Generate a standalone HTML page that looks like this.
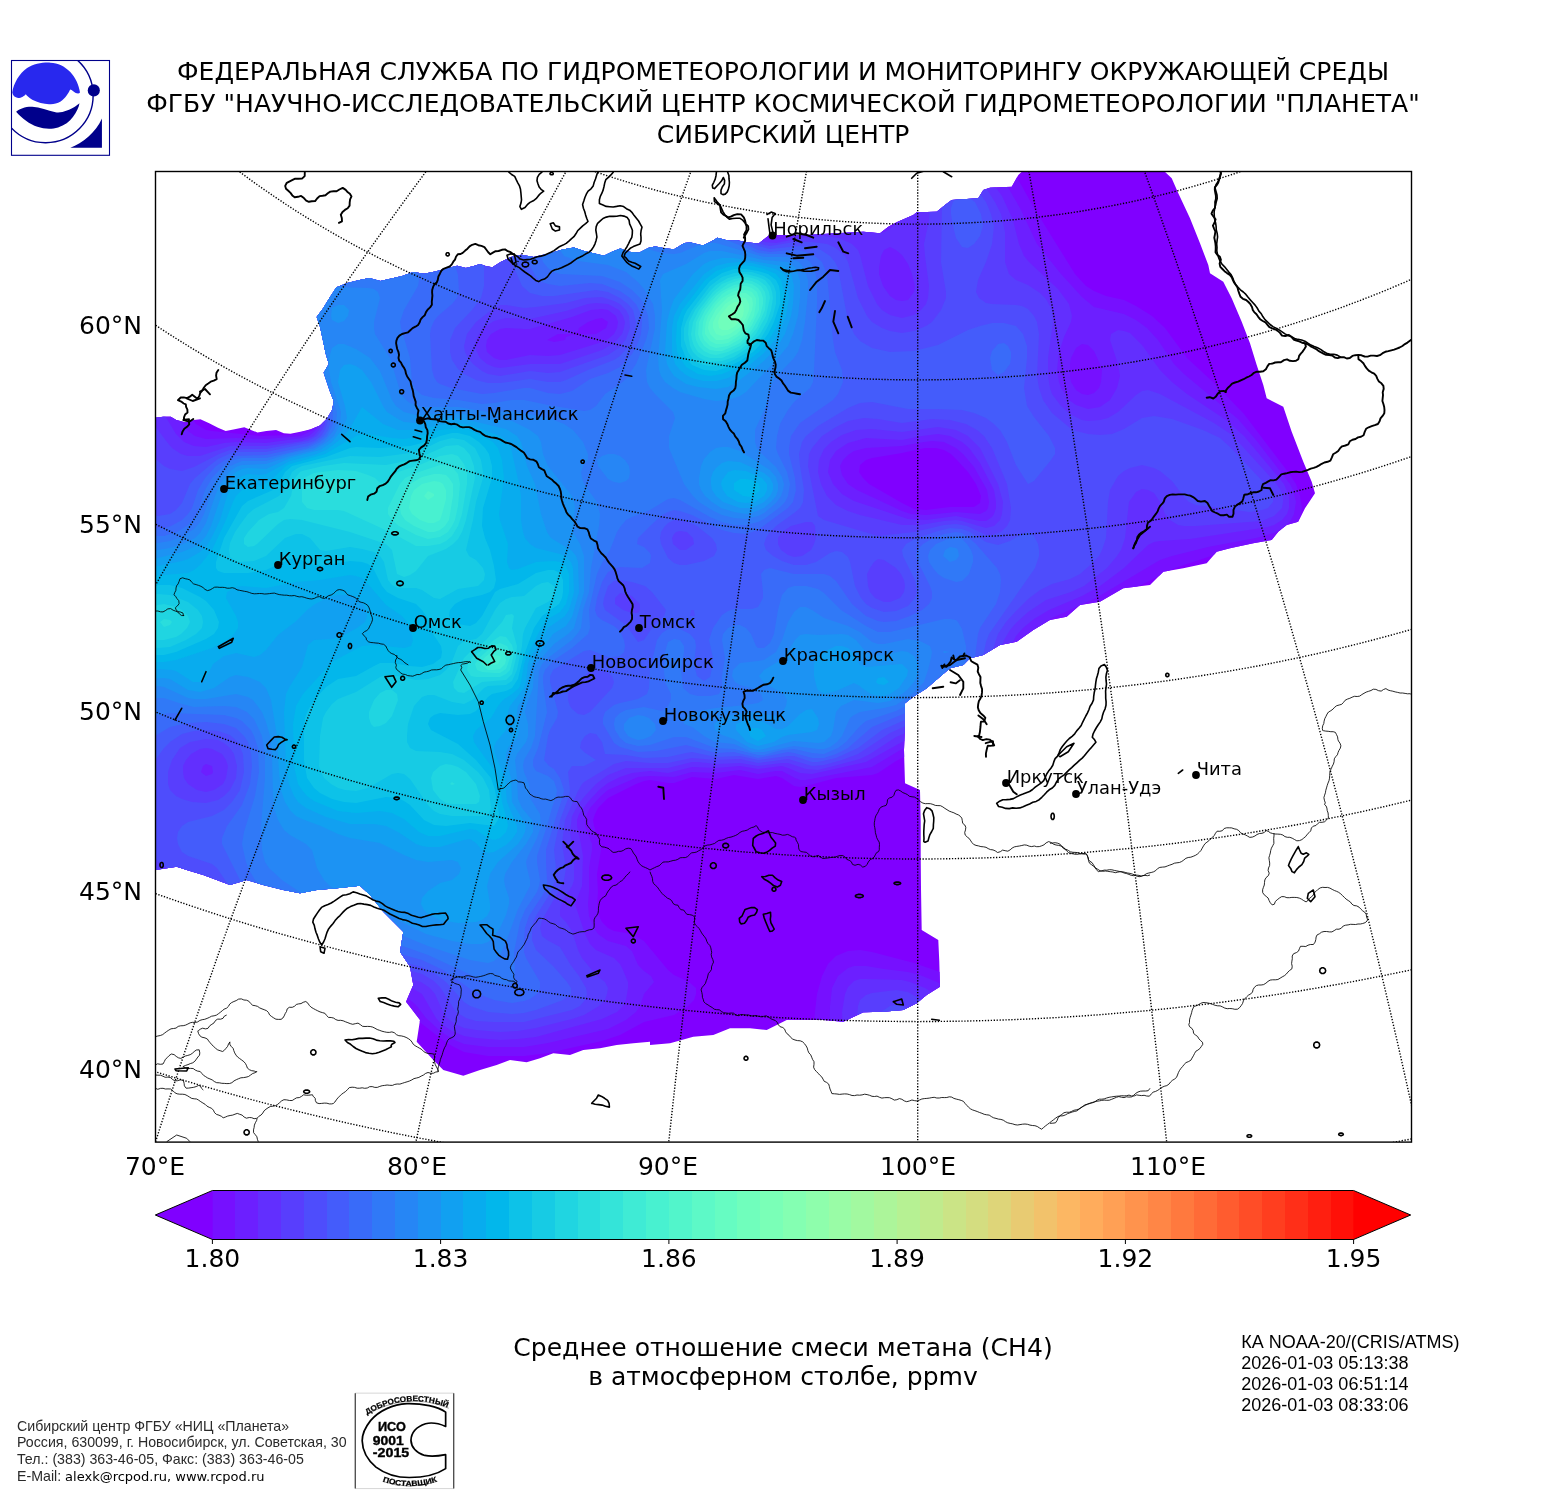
<!DOCTYPE html>
<html lang="ru"><head><meta charset="utf-8"><title>CH4</title>
<style>
html,body{margin:0;padding:0;background:#fff;}
body{width:1550px;height:1500px;overflow:hidden;position:relative;}
svg{position:absolute;left:0;top:0;display:block;}
.dj{font-family:"DejaVu Sans","Liberation Sans",sans-serif;}
.ar{font-family:"Liberation Sans",Arial,sans-serif;}
</style></head><body>
<svg width="1550" height="1500" viewBox="0 0 1550 1500">
<rect width="1550" height="1500" fill="#fff"/>

<defs><clipPath id="fr"><rect x="155.5" y="171.5" width="1256.0" height="970.5999999999999"/></clipPath>
<clipPath id="reg"><path d="M155.3 417.8 L163.2 416.7 L170.8 416.7 L176.3 420.0 L185.1 422.2 L193.9 420.0 L200.4 419.3 L209.2 423.3 L218.0 427.7 L225.7 431.0 L233.4 429.4 L244.3 427.2 L250.9 429.9 L257.5 432.5 L266.3 431.0 L276.1 429.9 L283.8 433.2 L290.4 433.8 L299.2 432.1 L310.1 429.4 L320.0 425.5 L326.6 418.9 L332.1 410.1 L333.8 401.3 L330.3 392.6 L326.6 381.6 L323.7 372.8 L328.8 364.1 L325.5 353.1 L323.3 342.1 L320.0 326.8 L316.7 316.9 L323.3 308.1 L329.9 297.2 L336.4 287.3 L347.4 282.9 L358.4 280.3 L369.3 278.1 L380.3 281.1 L391.3 278.5 L402.2 275.9 L413.2 271.9 L424.2 273.7 L435.2 271.5 L446.1 268.6 L457.1 265.8 L465.9 268.0 L474.6 265.8 L480.0 264.1 L486.2 266.2 L492.4 267.2 L500.6 262.0 L511.0 256.9 L521.3 254.8 L533.7 256.9 L548.1 253.8 L562.6 249.6 L573.9 247.6 L583.2 250.7 L595.6 253.8 L603.9 255.8 L612.1 251.7 L620.4 248.6 L628.6 251.7 L639.0 252.7 L649.3 247.6 L655.5 246.5 L665.8 248.6 L674.1 249.2 L684.4 243.0 L690.6 242.4 L703.0 245.5 L711.2 241.4 L717.4 237.7 L727.7 240.4 L738.1 240.4 L748.4 242.4 L758.7 243.4 L769.0 235.2 L772.1 235.2 L790.0 235.0 L806.7 235.0 L836.7 233.3 L863.3 231.7 L880.0 233.3 L888.3 226.7 L896.7 222.3 L913.3 215.0 L916.7 212.3 L936.7 211.7 L945.0 205.0 L951.7 200.0 L978.3 198.3 L983.3 190.0 L990.0 187.7 L1011.7 186.7 L1018.3 175.0 L1023.3 170.3 L1163.3 170.3 L1171.7 178.3 L1178.3 193.3 L1190.0 218.3 L1200.0 243.3 L1208.3 265.0 L1210.0 273.3 L1223.3 281.7 L1231.7 298.3 L1241.7 321.7 L1250.0 343.3 L1256.7 365.0 L1263.3 385.0 L1266.7 398.3 L1283.3 406.7 L1291.7 431.7 L1303.3 461.7 L1311.7 481.7 L1315.0 493.3 L1305.0 508.3 L1298.3 521.7 L1286.7 525.0 L1278.3 531.7 L1271.7 540.0 L1253.3 543.3 L1230.0 548.3 L1216.7 551.7 L1206.7 563.3 L1183.3 568.3 L1163.3 571.7 L1150.0 585.0 L1123.3 588.3 L1100.0 601.7 L1080.0 605.0 L1066.7 616.7 L1050.0 620.0 L1033.3 630.0 L1016.7 641.7 L1000.0 645.0 L983.3 655.0 L970.0 658.3 L963.3 665.0 L963.3 665.0 L950.0 668.3 L940.0 676.7 L926.7 688.3 L913.3 696.7 L905.0 703.3 L905.0 721.7 L904.0 750.0 L905.0 783.3 L920.0 790.0 L920.7 821.7 L920.7 855.0 L921.0 888.3 L921.7 930.0 L938.3 940.0 L939.3 961.7 L940.0 986.7 L926.7 995.0 L916.7 1003.3 L903.3 1010.0 L883.3 1011.7 L863.3 1012.3 L843.3 1021.7 L823.3 1020.0 L803.3 1020.0 L786.7 1020.0 L766.7 1030.0 L750.0 1028.3 L730.0 1028.3 L713.3 1035.0 L693.3 1036.7 L670.0 1043.3 L650.0 1045.0 L650.0 1041.7 L633.3 1043.3 L616.7 1045.0 L600.0 1048.3 L583.3 1050.0 L570.0 1055.0 L553.3 1053.3 L540.0 1058.3 L526.7 1062.3 L510.0 1060.0 L496.7 1065.0 L480.0 1070.0 L463.3 1075.7 L443.3 1070.0 L433.3 1060.0 L416.7 1041.7 L420.0 1020.0 L406.0 1001.7 L413.3 985.0 L410.0 966.7 L400.0 951.7 L403.3 931.7 L393.3 921.7 L383.3 911.7 L370.0 895.0 L360.0 885.7 L336.7 888.3 L316.7 890.0 L300.0 893.3 L283.3 890.0 L263.3 885.0 L246.7 880.0 L230.0 885.0 L216.7 880.0 L203.3 875.0 L186.7 870.0 L176.7 866.7 L155.3 870.0Z"/></clipPath>
<filter id="b40" x="-50%" y="-50%" width="200%" height="200%"><feGaussianBlur stdDeviation="22"/></filter>
<filter id="b25" x="-50%" y="-50%" width="200%" height="200%"><feGaussianBlur stdDeviation="14"/></filter>
<filter id="b12" x="-50%" y="-50%" width="200%" height="200%"><feGaussianBlur stdDeviation="8"/></filter>
</defs>
<g clip-path="url(#fr)">
<g clip-path="url(#reg)">
<rect x="155.5" y="171.5" width="1256.0" height="970.5999999999999" fill="#8000ff"/>
<path d="M146 160L692 160L696 166L701 172L757 226L764 231L770 233L782 231L843 208L860 200L872 193L884 183L896 170L902 160L1009 160L1014 172L1034 208L1075 274L1086 286L1094 291L1106 296L1124 300L1136 306L1152 316L1165 328L1187 358L1214 383L1244 414L1288 472L1296 484L1300 496L1302 508L1301 514L1298 522L1292 530L1280 539L1268 543L1214 555L1175 568L1127 592L1075 616L1054 628L1039 640L1031 652L1014 694L1003 712L986 729L968 739L950 746L908 755L896 761L878 773L872 775L836 778L806 786L800 787L794 786L782 778L776 776L758 779L734 775L716 779L692 777L674 783L668 783L650 780L644 781L636 784L608 798L598 808L595 814L593 820L594 826L600 844L601 850L597 874L598 892L597 904L599 916L602 922L608 928L614 931L632 934L644 941L668 970L674 975L689 982L696 988L696 994L694 1000L688 1006L674 1015L644 1022L620 1035L602 1041L548 1053L524 1056L488 1056L464 1052L452 1046L440 1038L404 1010L392 1005L368 1000L302 994L266 987L230 976L170 953L140 946L140 160ZM203 340L194 344L188 349L183 358L180 370L180 382L183 400L188 412L196 424L206 430L212 431L260 436L290 435L302 432L308 430L312 424L312 418L308 408L296 392L272 368L254 354L236 344L218 339ZM925 448L902 453L872 458L866 460L860 465L859 472L863 478L869 484L902 503L914 509L926 510L950 507L974 507L980 503L981 496L976 484L968 472L957 460L951 454L944 450L936 448ZM848 951L860 950L872 952L914 963L952 976L968 985L980 994L992 1006L1005 1024L1013 1042L1017 1060L1017 1084L1013 1102L1008 1114L998 1129L986 1141L966 1156L900 1156L872 1138L857 1126L842 1110L828 1090L820 1072L814 1048L813 1030L817 994L822 976L828 964L836 956Z" fill="#7610ff" fill-rule="evenodd"/>
<path d="M146 160L678 160L682 166L687 172L728 205L751 226L764 235L770 237L776 237L818 224L860 214L876 208L885 202L896 192L918 166L921 160L992 160L1020 208L1037 244L1061 274L1082 297L1094 307L1124 314L1136 320L1147 328L1158 340L1174 364L1184 374L1238 419L1256 440L1290 484L1293 490L1296 502L1294 514L1291 520L1286 526L1274 533L1256 538L1208 547L1172 556L1160 560L1096 598L1052 618L1038 628L1025 640L1019 652L1011 676L1004 693L995 706L986 716L974 724L956 733L902 749L872 767L806 780L800 780L795 778L782 771L776 771L758 774L740 770L716 773L692 772L674 777L650 776L638 777L608 790L601 796L590 808L587 814L585 820L585 826L592 844L592 850L589 868L589 892L588 904L589 916L594 928L598 934L608 941L626 946L632 951L638 965L644 971L651 976L654 982L644 994L640 1006L636 1012L626 1020L608 1029L548 1043L524 1047L488 1047L464 1044L452 1039L439 1030L426 1018L416 1005L410 1000L404 997L386 993L308 984L272 976L236 964L176 936L152 928L140 925L140 160ZM178 322L170 329L164 340L161 352L161 364L164 382L170 400L179 418L188 431L195 436L206 439L236 438L266 439L301 436L313 430L316 424L316 418L314 411L308 401L284 372L254 343L230 326L212 319L194 317L188 318ZM588 322L579 328L578 331L572 334L558 334L547 340L554 342L565 340L566 337L572 335L596 334L606 328L608 322L602 318L596 319ZM1079 346L1076 348L1071 358L1070 364L1070 376L1071 382L1076 390L1082 394L1088 395L1094 393L1099 388L1101 382L1102 370L1100 364L1094 351L1088 345L1082 344ZM924 442L902 446L866 448L854 451L848 455L843 460L840 466L842 475L848 484L857 490L902 511L911 514L926 515L956 512L980 514L986 511L988 508L989 502L987 490L974 467L963 454L956 448L944 442L932 441ZM848 968L854 966L866 966L884 969L908 972L920 975L937 982L950 990L964 1000L975 1012L983 1024L991 1042L994 1054L995 1072L992 1088L986 1102L980 1110L970 1120L956 1129L944 1133L926 1135L908 1132L890 1126L878 1119L866 1110L852 1096L842 1081L835 1066L831 1054L829 1036L830 1006L832 988L838 976Z" fill="#6c1fff" fill-rule="evenodd"/>
<path d="M146 160L662 160L666 166L672 172L687 184L722 208L758 236L764 239L770 240L782 239L812 231L830 229L848 228L878 233L884 232L890 229L902 217L908 209L918 190L926 178L944 161L946 160L970 160L986 174L1002 196L1013 220L1019 244L1024 256L1029 262L1058 289L1069 304L1072 316L1071 322L1064 337L1059 352L1057 370L1059 382L1061 388L1069 400L1076 405L1088 409L1100 407L1110 400L1117 388L1120 376L1118 364L1110 340L1111 334L1118 330L1124 331L1130 333L1142 345L1160 370L1172 382L1187 394L1226 420L1244 436L1284 484L1289 496L1289 508L1287 514L1282 520L1274 525L1268 527L1190 539L1160 541L1154 542L1148 545L1124 568L1100 586L1082 596L1049 610L1034 619L1023 628L1016 636L1011 646L1002 676L997 688L989 700L980 709L968 717L956 723L902 742L866 762L812 774L800 773L788 768L782 766L758 769L740 766L716 768L692 767L668 773L650 771L632 773L620 777L608 783L599 790L588 802L579 814L577 820L577 826L581 844L583 856L582 886L575 904L585 934L590 944L596 950L614 958L620 964L623 970L628 982L628 988L626 1000L623 1006L617 1012L602 1019L536 1037L518 1039L500 1040L476 1038L464 1036L452 1031L441 1024L436 1018L422 994L412 988L392 984L320 975L278 966L260 960L242 952L194 923L182 917L158 909L140 904L140 377L146 384L176 434L184 442L194 446L206 447L224 443L236 442L266 443L302 438L309 436L316 430L319 424L319 418L315 406L308 395L278 356L248 324L230 307L218 298L206 291L194 285L176 282L164 283L158 285L140 297L140 160ZM884 250L881 256L879 268L879 274L883 286L890 296L896 300L902 301L908 300L914 292L915 286L912 274L908 264L902 255L896 250L890 247ZM591 310L572 317L530 329L524 329L506 328L500 329L491 334L487 340L486 346L487 352L494 358L500 360L506 360L530 355L548 356L560 355L602 342L608 339L614 334L617 328L618 322L616 316L608 310L602 309ZM922 436L902 440L866 438L848 443L836 451L830 460L828 472L833 484L842 494L854 501L908 519L926 520L956 516L980 521L986 521L992 517L994 514L996 508L996 502L994 490L980 463L969 448L962 442L950 436L938 434ZM203 766L201 772L206 776L212 774L213 772L212 766L206 764ZM854 981L860 979L866 979L902 980L910 982L925 988L935 994L943 1000L954 1012L966 1030L970 1042L972 1054L972 1066L969 1078L962 1090L956 1097L949 1102L938 1108L926 1110L914 1110L902 1108L890 1103L878 1096L865 1084L856 1072L850 1060L846 1048L843 1030L842 1012L845 994L848 987Z" fill="#622ffe" fill-rule="evenodd"/>
<path d="M176 160L644 160L649 166L655 172L674 186L722 214L755 238L764 242L776 243L800 238L824 236L839 238L852 244L858 250L860 255L868 286L877 304L882 310L890 315L902 318L914 315L920 311L926 304L928 298L929 286L925 256L924 244L929 220L930 202L933 190L938 183L944 178L950 175L956 174L968 175L980 182L986 188L995 202L1001 214L1005 232L1005 262L1009 274L1016 280L1028 285L1040 293L1046 299L1052 310L1053 322L1048 358L1048 376L1050 388L1052 394L1061 406L1070 414L1082 420L1088 421L1100 420L1108 418L1118 412L1136 395L1142 391L1148 390L1160 394L1214 423L1232 435L1274 481L1280 489L1283 496L1283 502L1282 508L1274 516L1262 521L1196 526L1184 526L1178 525L1170 520L1165 514L1160 502L1154 493L1148 490L1142 489L1136 492L1129 502L1125 538L1121 550L1117 556L1107 568L1084 586L1071 592L1046 600L1028 612L1016 623L1010 630L1004 640L996 670L991 682L980 697L962 710L896 737L870 754L860 759L830 767L818 770L806 769L788 763L782 763L758 766L740 763L716 764L698 762L692 762L668 768L626 768L608 775L596 784L584 797L578 805L572 816L570 832L574 862L574 880L572 886L561 904L560 910L560 916L566 922L572 931L578 950L582 958L596 975L605 982L608 988L607 994L605 1000L599 1006L584 1015L572 1019L536 1028L518 1031L500 1032L476 1030L464 1028L455 1024L447 1018L443 1012L435 994L430 988L421 982L404 977L320 965L296 960L278 954L260 947L242 937L194 900L140 881L140 411L146 415L152 422L167 442L172 448L181 454L188 456L200 456L230 446L266 446L302 441L314 436L319 430L322 424L322 418L321 412L308 389L227 274L191 220L185 208L177 190L175 178ZM588 304L566 311L530 319L506 318L494 321L483 328L479 334L476 340L475 346L477 352L480 358L487 364L494 367L500 368L530 364L560 364L602 350L614 343L622 334L624 328L625 322L623 316L619 310L608 304L596 303ZM856 430L842 435L831 442L824 449L819 460L818 472L821 484L827 496L836 505L848 511L860 515L902 525L920 525L944 521L956 520L962 521L986 528L994 526L1000 520L1002 514L1003 502L998 484L980 448L968 436L956 430L938 427L902 432L872 429ZM191 754L186 760L183 766L183 772L184 778L188 784L197 790L206 792L214 790L223 784L226 778L228 766L226 760L222 754L212 749L206 748L200 749ZM872 993L896 990L908 992L922 1000L929 1006L939 1018L946 1036L948 1048L947 1054L943 1066L938 1073L933 1078L920 1083L914 1084L902 1082L891 1078L884 1074L870 1060L861 1042L858 1030L857 1018L858 1006L860 1000L866 995Z" fill="#583efd" fill-rule="evenodd"/>
<path d="M278 164L281 160L623 160L628 166L636 172L670 196L686 205L716 217L760 244L770 246L794 242L812 242L827 244L836 248L845 256L848 262L858 298L867 316L872 322L882 328L890 331L902 333L914 331L926 326L932 322L941 310L946 298L946 292L941 262L942 202L944 195L950 188L956 186L962 185L968 186L974 189L980 194L986 202L991 214L994 226L992 244L986 262L978 280L976 292L979 298L986 303L992 304L1016 305L1022 306L1028 309L1034 316L1037 322L1039 334L1037 376L1039 388L1043 400L1052 413L1070 428L1076 431L1088 434L1100 435L1112 434L1124 429L1142 418L1154 416L1172 419L1203 430L1220 438L1231 448L1268 487L1273 496L1273 502L1268 508L1262 510L1250 512L1196 505L1189 502L1184 497L1172 481L1160 471L1154 468L1142 465L1130 468L1124 471L1118 476L1110 490L1108 502L1106 538L1102 550L1099 556L1088 567L1080 574L1070 579L1052 584L1040 590L1028 599L1016 611L1006 622L998 634L994 646L988 670L982 682L974 692L962 701L890 733L858 754L842 760L824 765L812 766L788 759L758 763L740 759L716 760L692 758L668 763L650 763L626 761L614 764L584 782L582 784L578 791L565 820L562 844L566 868L564 880L558 892L542 920L540 928L542 936L547 940L560 947L570 964L579 976L586 988L587 994L585 1000L580 1006L572 1010L524 1022L494 1022L476 1021L466 1018L456 1012L440 987L434 981L422 974L404 969L314 954L288 946L266 937L251 928L236 916L225 904L212 888L206 882L170 870L159 862L146 850L140 847L140 446L164 466L170 469L182 471L194 467L219 454L230 450L242 449L266 449L308 441L317 436L322 430L325 424L324 412L320 403L276 328L263 304L253 280L247 256L246 232L250 208L254 196L260 186ZM585 298L566 303L536 307L524 308L506 305L500 305L494 308L476 322L467 334L464 346L465 352L468 358L473 364L482 371L488 374L500 376L530 371L548 373L560 372L608 355L620 347L626 339L630 328L629 316L626 310L620 304L614 301L602 297ZM864 418L848 421L836 427L822 436L812 448L809 454L808 466L818 516L824 520L878 536L914 532L944 525L956 524L967 526L986 535L992 535L1001 532L1007 526L1010 520L1011 508L1007 484L992 448L984 436L977 430L966 424L950 420L932 419L902 423L878 419ZM791 526L782 532L778 538L778 544L781 550L788 555L794 557L802 556L811 550L814 544L816 538L815 526L812 522L806 522ZM676 532L674 534L672 538L673 544L680 550L686 550L694 544L693 538L687 532L680 531ZM874 562L870 568L867 574L868 586L870 592L875 598L884 602L890 602L900 598L904 592L905 586L904 580L901 574L896 568L884 560L878 559ZM615 598L615 604L623 610L632 613L638 613L640 610L640 604L632 596L626 594L620 593ZM190 742L180 748L172 760L168 772L168 778L168 784L170 790L176 796L182 799L192 802L206 803L218 800L224 796L230 790L236 778L237 766L234 754L230 748L224 743L218 740L206 739ZM890 1006L896 1005L902 1006L908 1010L915 1018L917 1024L919 1036L917 1042L914 1046L908 1049L902 1050L896 1048L890 1045L884 1038L880 1030L878 1024L878 1018L881 1012Z" fill="#4e4dfc" fill-rule="evenodd"/>
<path d="M494 163L499 160L593 160L601 166L626 181L668 208L680 213L716 223L758 246L770 249L800 246L812 247L821 250L830 256L835 262L838 268L847 316L854 334L860 341L872 348L890 352L914 351L938 345L968 330L980 326L992 323L1004 323L1016 326L1023 334L1027 346L1027 358L1024 388L1026 400L1027 406L1034 417L1049 436L1055 448L1055 454L1051 460L1034 481L1028 484L1016 465L1007 442L1000 430L994 424L986 418L974 413L962 410L938 409L908 409L872 402L860 403L848 408L818 426L806 436L802 442L799 454L800 466L804 490L803 502L800 508L794 513L776 526L770 532L766 538L764 544L766 550L773 556L782 561L794 565L806 565L816 562L830 553L836 551L842 552L848 557L850 562L855 586L861 598L866 604L872 608L884 612L896 611L908 606L915 598L917 592L915 580L903 556L902 550L906 544L917 538L938 531L950 528L962 529L970 532L986 542L998 545L1010 541L1022 534L1028 532L1034 536L1038 544L1039 550L1039 556L1035 568L989 634L986 642L980 670L974 680L968 686L956 694L914 716L882 730L858 748L836 758L818 762L812 762L794 756L788 756L758 760L740 756L716 757L692 752L686 753L668 757L644 758L626 755L605 754L602 742L596 734L590 733L585 736L581 742L580 748L584 752L596 760L584 766L572 766L568 772L570 790L569 796L560 820L555 844L554 850L556 868L555 880L551 892L536 916L533 922L532 934L532 940L536 950L554 967L567 982L571 988L571 994L563 1000L536 1010L524 1013L512 1014L488 1012L470 1006L464 1002L446 982L434 973L422 967L398 961L320 944L296 937L276 928L256 916L242 904L233 892L217 868L212 864L188 856L182 852L178 844L177 838L178 832L182 826L188 822L212 816L224 810L232 802L240 790L244 772L243 754L238 742L230 735L218 731L206 730L194 731L182 734L170 742L164 748L146 773L140 778L140 510L158 516L170 514L176 510L182 503L190 484L195 478L209 466L218 459L229 454L236 452L266 452L308 443L314 441L321 436L325 430L327 424L328 418L325 406L285 328L274 298L272 280L272 262L277 244L283 232L296 216L314 202L332 192L356 182L380 176L398 174L464 173L482 169ZM489 250L485 256L484 262L484 286L481 298L472 310L455 328L450 340L450 352L452 360L458 369L464 374L476 380L488 383L500 383L530 379L548 382L560 382L566 380L588 370L614 360L620 356L629 346L635 334L636 322L633 310L628 304L620 298L608 292L596 290L554 296L542 296L530 293L522 286L512 263L506 254L500 249L494 248ZM678 520L674 520L668 523L665 526L661 532L660 538L661 544L668 558L674 563L680 565L686 565L704 561L714 556L717 550L716 544L712 538L697 526L686 521ZM620 580L614 581L608 586L604 598L603 604L605 610L626 625L638 642L644 640L652 628L664 616L666 610L652 592L645 586L632 582ZM691 610L690 616L695 616L694 610ZM593 670L590 671L571 688L568 694L568 700L570 706L572 709L578 714L584 715L590 712L612 688L614 682L612 676L608 672L602 670ZM956 199L962 196L968 197L975 202L981 214L983 226L980 236L974 244L968 248L962 247L960 244L956 238L953 226L951 214L951 208L953 202Z" fill="#445cfb" fill-rule="evenodd"/>
<path d="M554 177L572 177L596 182L620 193L656 216L668 222L680 225L704 227L716 230L758 250L770 252L788 250L798 250L806 252L815 256L822 262L827 274L833 340L835 352L842 370L843 382L838 394L833 400L800 423L791 436L789 448L789 454L795 478L796 490L793 502L788 508L758 530L746 534L734 533L722 530L692 515L680 511L674 510L668 512L662 515L650 526L638 538L637 544L644 547L650 553L651 556L650 563L642 568L620 567L614 569L608 572L602 582L597 598L595 610L597 616L602 620L614 626L620 631L624 640L625 646L624 652L620 656L614 657L608 657L590 650L584 651L553 670L550 676L550 682L558 712L557 718L550 730L548 736L544 760L549 766L554 769L560 778L564 790L563 796L557 814L546 850L546 862L547 880L547 886L542 896L529 916L525 928L524 940L524 952L526 958L540 982L540 988L537 994L530 999L524 1001L512 1003L494 1000L476 993L443 970L422 960L386 950L325 934L296 924L280 916L266 908L248 892L240 880L225 850L222 844L222 838L227 826L242 805L250 784L252 766L251 754L248 742L244 736L236 728L224 724L206 722L188 723L170 727L140 745L140 526L152 528L164 528L171 526L182 520L188 514L192 508L198 490L205 478L216 466L225 460L236 456L266 455L308 446L316 442L324 436L328 430L330 424L330 412L306 358L292 322L289 310L287 298L289 280L296 264L308 251L326 242L374 223L386 220L398 218L410 219L422 222L434 229L440 235L446 243L452 256L458 275L459 292L457 298L452 304L438 316L434 321L431 328L430 334L432 370L434 377L437 382L440 384L451 388L482 394L494 393L524 388L530 388L548 393L560 394L572 391L590 379L608 373L620 367L632 354L638 343L641 334L642 322L642 316L636 304L630 298L620 291L602 284L590 283L560 286L548 284L542 282L536 277L531 268L526 256L518 232L516 220L516 208L518 202L522 196L530 187L542 181ZM998 344L1004 343L1008 346L1011 352L1011 358L1010 364L1004 372L998 375L992 370L990 358L992 351ZM956 532L962 533L968 537L976 544L997 568L1000 574L1001 580L1000 592L996 604L980 628L978 634L974 664L968 675L956 684L938 693L908 712L872 727L848 748L836 754L824 758L812 758L794 753L788 752L758 758L734 752L716 753L686 745L656 751L638 752L620 747L614 743L610 736L603 724L603 718L605 712L614 705L620 703L638 699L647 694L649 688L650 670L657 640L662 633L668 629L674 628L680 629L690 634L695 640L696 646L694 664L697 676L704 681L710 677L713 664L713 658L709 640L713 628L722 615L728 611L734 609L752 609L758 607L763 598L763 592L761 574L764 570L770 568L794 574L824 574L830 576L836 581L852 604L866 616L878 621L884 622L896 621L910 616L922 610L929 604L932 598L932 592L930 586L918 562L916 556L917 550L923 544L933 538L944 534Z" fill="#396bf9" fill-rule="evenodd"/>
<path d="M560 200L566 198L578 196L590 198L602 201L620 209L656 233L668 238L680 239L698 235L710 235L722 238L758 253L770 254L794 254L801 256L806 259L810 262L814 268L817 280L817 304L814 370L813 382L810 388L794 402L788 410L780 424L777 436L776 448L778 454L787 472L790 484L788 496L785 502L779 508L764 519L758 522L746 525L734 525L722 522L710 517L680 500L674 498L668 499L650 510L632 517L626 520L621 526L617 532L610 550L602 563L597 574L589 610L590 628L588 634L572 648L554 660L545 670L543 676L543 682L547 712L538 748L533 760L533 766L536 771L548 776L554 781L557 790L556 796L552 808L547 826L537 856L537 862L540 880L539 886L537 892L525 910L520 922L514 952L515 976L514 982L506 985L494 983L482 980L428 955L380 938L327 922L311 916L276 898L266 891L255 880L248 868L246 862L242 844L244 832L255 796L259 772L258 748L254 736L251 730L242 721L236 718L224 715L170 713L158 715L140 722L140 536L164 536L177 532L188 525L197 514L205 490L212 478L223 466L230 461L242 458L266 458L308 448L320 442L327 436L333 424L333 412L313 358L302 322L300 304L302 292L308 281L314 276L326 271L350 269L380 258L392 257L404 259L410 262L416 268L418 274L419 280L418 286L404 310L400 322L401 328L410 358L412 382L416 390L422 395L434 398L458 400L482 404L494 403L512 400L524 400L548 405L584 411L590 410L596 406L605 394L620 384L626 379L636 364L646 340L649 328L648 316L644 304L640 298L632 290L620 282L602 276L560 274L554 272L548 268L543 262L539 250L538 238L539 226L542 216L547 208L554 203ZM950 538L956 537L962 539L967 544L971 550L973 556L973 562L969 574L962 581L956 582L944 578L938 574L933 568L929 562L928 556L930 550L936 544ZM794 586L806 586L818 589L824 593L841 610L866 626L878 632L890 632L944 619L950 619L956 620L958 622L962 629L966 646L966 658L965 664L962 668L956 673L938 680L923 694L906 706L896 711L866 721L860 726L846 742L838 748L824 754L812 753L794 749L782 750L764 755L758 755L734 749L715 748L686 737L674 737L650 745L638 746L626 743L620 738L615 730L614 724L615 718L620 713L626 710L638 708L644 707L662 711L668 706L671 700L671 694L665 682L664 670L665 652L668 642L674 639L680 640L684 646L684 652L681 670L683 688L690 694L698 696L710 696L719 694L722 688L722 676L725 658L722 640L723 634L728 628L734 625L740 625L746 628L751 634L756 646L758 648L764 648L770 643L774 634L778 610L782 595L788 588Z" fill="#3079f7" fill-rule="evenodd"/>
<path d="M578 219L590 219L608 224L623 232L644 246L651 250L662 253L674 254L680 253L704 243L716 243L764 257L788 257L799 262L804 268L808 280L808 292L805 322L802 340L798 352L794 358L777 376L773 382L770 388L766 406L755 430L755 442L757 448L762 454L776 467L782 477L784 484L783 490L781 496L776 503L764 513L758 516L746 519L734 518L722 515L710 509L699 502L693 496L684 484L669 448L669 436L675 418L673 412L655 394L650 388L647 382L646 370L655 328L655 316L653 304L644 289L638 282L626 272L608 265L578 261L564 256L560 250L559 244L560 235L566 226ZM326 289L338 287L368 288L374 289L378 292L380 298L374 322L374 328L375 334L390 358L401 394L406 400L410 403L422 407L458 407L488 412L512 411L549 418L564 424L573 430L583 442L588 454L588 460L584 464L581 472L582 478L584 484L597 502L600 514L599 526L591 568L589 592L583 610L581 628L578 633L572 640L548 658L542 664L539 670L535 736L531 748L524 760L523 766L524 772L529 784L530 798L540 814L541 826L537 838L528 856L526 862L527 868L530 880L530 886L518 909L506 942L500 955L494 961L488 963L470 960L428 946L374 924L332 909L309 898L282 880L269 868L265 862L262 850L261 826L265 778L265 754L262 736L254 719L247 712L236 707L224 706L194 707L182 704L164 698L158 698L140 702L140 544L158 543L170 541L182 537L194 529L200 522L204 514L214 484L223 472L230 466L242 461L266 461L288 454L314 448L324 442L334 430L336 424L337 412L326 382L321 364L313 316L314 304L316 298L320 293ZM602 456L608 454L614 454L620 456L625 460L629 466L630 472L629 478L626 481L620 483L614 482L608 479L598 466L597 460ZM950 547L956 548L958 550L959 556L956 560L950 562L943 556L945 550ZM800 607L806 607L812 610L824 618L848 626L860 632L872 642L878 644L884 644L908 639L920 641L930 646L932 652L931 658L928 670L924 682L912 694L896 705L884 708L860 712L854 715L850 718L842 736L837 742L830 747L824 749L818 749L794 746L764 752L752 752L734 744L715 742L704 736L692 727L684 724L683 718L692 712L716 708L746 705L758 703L763 700L761 694L758 692L752 688L740 685L735 682L732 676L733 670L740 663L758 661L764 660L776 652L782 640L788 622L794 612ZM944 651L950 652L950 652L944 653L943 652ZM632 717L638 715L644 716L649 718L655 724L656 730L651 736L644 739L638 740L632 738L628 736L624 730L624 724L629 718Z" fill="#2686f5" fill-rule="evenodd"/>
<path d="M704 253L710 251L722 251L764 260L788 262L796 268L800 280L800 298L798 316L793 334L788 346L778 358L746 392L740 396L728 400L716 401L704 399L680 392L673 388L665 382L661 376L659 370L658 358L662 310L660 280L663 274L686 264ZM332 308L338 305L344 305L349 310L348 316L344 321L338 323L332 320L331 316ZM338 344L344 344L356 349L370 358L380 371L392 400L396 406L404 412L416 415L452 413L464 414L482 418L512 421L530 430L538 436L541 442L543 454L548 466L572 496L574 502L575 508L573 526L573 532L580 544L584 556L584 592L574 628L568 634L554 644L536 664L534 670L533 688L526 706L525 712L528 724L528 736L526 742L517 754L515 760L517 778L518 799L522 808L532 820L533 826L533 832L526 844L512 862L505 874L504 880L505 886L509 898L509 904L506 915L500 928L494 937L488 942L482 944L470 944L452 941L426 934L402 922L368 902L338 891L330 886L324 880L317 868L312 850L306 844L290 835L284 830L278 820L274 808L273 796L272 754L270 736L266 722L262 712L253 700L248 697L236 694L206 699L194 699L188 698L164 687L158 686L140 689L140 552L152 551L170 548L183 544L195 538L200 533L206 523L215 496L220 484L229 472L236 467L242 465L266 464L290 456L314 450L326 443L334 436L340 424L341 412L331 382L329 370L329 358L332 348ZM722 447L728 447L740 451L770 470L776 477L778 484L778 490L776 496L771 502L764 508L752 513L746 514L734 512L721 508L712 502L705 496L701 490L699 484L699 478L701 466L704 459L710 452L716 448ZM806 634L818 635L842 634L848 635L856 640L866 652L872 656L884 655L902 651L908 652L914 656L918 664L918 670L917 676L914 682L908 689L902 694L890 701L878 703L854 700L841 706L836 712L833 730L831 736L824 742L818 743L794 741L782 744L764 749L758 750L750 748L734 739L722 735L715 730L714 724L721 718L728 716L752 712L776 716L782 713L786 706L787 700L784 694L764 683L759 676L764 670L784 658L795 640L800 635Z" fill="#1c93f3" fill-rule="evenodd"/>
<path d="M710 261L722 258L734 258L782 266L786 268L791 274L794 286L793 304L791 316L785 334L778 346L764 361L740 380L728 387L716 389L698 387L686 384L680 380L674 376L670 370L667 364L665 352L667 322L670 310L674 299L693 274L704 264ZM344 365L350 364L356 366L362 370L371 382L383 406L387 412L398 419L404 422L416 423L446 418L464 419L506 429L517 436L521 442L527 466L535 484L541 514L547 532L551 538L572 551L576 556L578 562L579 592L572 617L566 626L553 634L532 664L530 670L529 688L518 706L517 712L519 730L518 736L508 748L506 754L506 760L511 778L512 802L523 820L526 826L525 832L522 838L518 844L498 862L490 874L487 886L490 904L490 910L487 916L482 920L476 922L458 923L440 920L428 914L424 910L421 904L422 898L428 891L440 883L452 880L459 874L461 868L458 862L452 860L428 862L416 860L404 855L380 843L350 838L338 834L321 826L302 819L296 816L290 810L285 802L281 790L279 772L277 736L271 700L266 688L260 682L248 677L236 675L230 677L214 688L200 692L188 690L170 679L164 678L140 679L140 560L158 558L182 552L194 547L200 543L206 536L211 526L224 488L230 478L236 472L242 469L248 468L266 469L290 458L320 450L332 442L342 430L347 418L345 406L338 382L340 370ZM722 463L728 461L740 462L764 473L770 478L773 484L773 490L770 496L764 502L752 508L740 508L723 502L716 496L712 490L711 484L711 478L713 472L716 468ZM842 646L848 648L852 652L860 665L866 667L902 664L908 670L907 676L899 688L890 694L884 696L878 696L871 694L862 688L860 686L854 683L836 691L824 694L818 690L817 688L814 676L814 664L816 658L823 652L836 646ZM806 710L812 709L818 718L819 724L817 730L812 732L788 735L782 737L774 742L758 746L747 742L736 730L736 724L746 720L752 719L764 722L776 729L782 729L788 726L800 714Z" fill="#11a0f1" fill-rule="evenodd"/>
<path d="M716 266L728 263L740 262L752 263L776 269L784 274L787 280L788 286L789 298L786 316L781 328L775 340L764 353L746 368L728 378L716 381L704 381L692 378L686 375L680 370L675 364L672 352L672 328L674 316L680 304L704 274ZM362 407L383 424L398 430L416 430L446 424L458 423L470 425L484 430L500 436L506 440L511 448L519 484L521 496L521 520L523 532L525 538L530 544L536 548L560 554L566 557L571 562L573 568L574 592L569 610L565 616L548 628L538 646L530 658L528 664L526 682L524 688L510 706L508 712L508 724L506 730L496 742L494 747L495 754L505 778L507 802L517 826L517 832L513 838L506 845L494 852L488 853L482 850L476 843L470 839L464 840L440 847L428 847L422 846L416 844L398 832L386 826L374 824L350 824L326 817L306 808L298 802L294 796L289 784L286 766L284 712L286 694L290 686L302 667L308 645L314 640L332 639L344 635L357 628L365 622L367 616L366 610L363 604L356 597L350 595L338 595L327 598L315 604L307 610L295 622L278 635L266 650L260 655L254 657L236 653L224 656L213 664L207 676L200 682L193 682L176 671L172 670L158 669L140 670L140 568L158 566L182 561L188 559L200 552L206 547L212 537L220 520L227 496L230 490L239 478L242 476L248 474L260 475L266 474L290 461L314 455L326 450L337 442L349 430ZM734 470L746 471L762 478L767 484L767 490L764 496L755 502L746 503L738 502L727 496L723 490L721 484L722 480L728 472ZM878 678L884 677L889 682L884 685L878 684L876 682ZM752 728L758 728L762 730L766 736L758 741L752 738L750 736L749 730Z" fill="#08acee" fill-rule="evenodd"/>
<path d="M728 267L740 265L752 266L764 269L776 274L781 280L784 292L784 304L781 316L776 328L769 340L759 352L746 362L734 369L722 374L710 376L698 374L686 367L680 358L677 352L676 340L677 322L682 310L705 280L716 271ZM440 430L458 428L469 430L482 436L493 442L498 448L502 460L504 478L499 514L500 520L508 544L507 562L509 568L512 570L518 569L536 562L554 561L560 562L566 566L569 574L569 592L566 604L560 612L548 619L541 628L526 658L524 664L521 682L519 688L512 694L503 700L498 706L491 718L476 730L473 736L474 742L478 748L494 770L498 778L500 784L502 802L507 820L508 826L506 832L500 838L494 840L488 838L476 830L470 829L440 836L428 836L419 832L404 819L392 813L380 811L356 813L338 811L314 801L307 796L302 790L298 784L294 766L293 724L296 706L303 694L332 662L356 649L362 646L374 645L404 648L411 646L413 640L410 628L407 622L402 616L386 605L368 584L362 578L356 576L350 575L320 580L296 582L266 588L242 586L236 587L227 592L226 598L236 616L238 622L238 628L234 634L227 640L212 648L176 660L164 662L140 662L140 577L188 573L194 570L200 565L212 550L226 520L233 502L236 496L242 490L248 488L260 486L266 483L272 479L286 466L290 464L325 454L356 436L362 434L368 434L392 438L404 439L416 437ZM734 483L740 479L746 479L752 480L759 484L760 490L758 492L752 497L743 496L734 490Z" fill="#02b7eb" fill-rule="evenodd"/>
<path d="M722 273L734 269L746 269L758 271L768 274L776 280L779 286L780 292L780 304L774 322L768 334L759 346L753 352L740 361L728 367L716 371L704 370L692 365L686 358L681 346L681 328L684 316L687 310L701 292L710 281ZM440 436L452 433L458 433L470 436L479 442L485 448L489 454L492 466L492 478L483 508L482 526L485 538L490 550L494 566L496 580L494 588L490 592L482 595L464 599L455 604L450 610L449 616L452 620L458 624L464 625L470 626L476 623L482 616L495 592L500 589L518 584L536 573L548 570L554 570L560 573L563 580L563 592L562 598L559 604L542 616L534 628L523 658L518 679L512 688L506 691L492 694L488 697L476 711L470 714L458 715L440 713L434 715L430 718L428 724L431 730L458 744L476 760L491 778L495 790L499 814L498 820L494 826L470 823L446 826L434 825L424 820L410 805L404 801L398 798L386 797L356 803L344 802L332 799L320 793L314 788L307 778L304 760L304 730L305 718L308 710L314 700L326 687L338 679L356 676L374 666L380 663L392 663L410 666L422 667L433 664L441 658L442 652L441 646L433 634L430 622L422 610L416 604L398 598L387 592L382 586L373 568L368 564L362 562L350 561L320 566L314 565L296 558L290 559L266 570L248 573L224 573L218 571L216 568L216 562L224 538L242 506L248 501L273 490L278 485L285 472L292 466L326 457L350 448L356 447L380 448L410 446L422 443ZM146 586L158 585L170 585L182 588L200 597L206 601L214 610L219 622L218 628L214 634L206 639L176 652L164 655L140 655L140 586Z" fill="#0dc2e8" fill-rule="evenodd"/>
<path d="M734 273L740 272L752 272L764 276L770 280L774 286L776 292L776 304L773 316L767 328L760 340L746 353L734 360L722 365L710 366L704 365L698 363L692 358L688 352L684 340L684 328L686 322L692 310L710 286L722 277ZM440 441L452 438L464 440L475 448L481 460L483 472L483 478L476 502L473 520L466 550L469 556L476 560L483 568L485 574L484 580L478 586L458 589L440 599L434 598L422 590L416 588L398 588L392 585L388 580L384 562L380 556L374 552L362 549L350 547L326 551L320 550L310 538L302 534L296 534L285 538L266 556L254 561L239 562L236 561L230 557L229 550L230 543L235 532L242 522L248 514L254 509L279 496L284 490L292 472L296 469L302 466L350 456L380 457L410 453L422 450ZM536 586L542 583L548 582L554 586L555 592L553 598L548 602L536 608L525 628L523 634L522 646L517 670L512 681L506 685L488 686L484 688L472 700L464 704L452 702L434 695L428 695L422 697L414 706L408 724L407 736L407 742L410 748L416 751L440 752L452 754L464 760L478 772L483 778L489 790L491 808L488 815L482 816L452 816L440 814L434 811L428 805L410 779L404 774L398 773L392 774L368 788L356 791L345 790L338 788L331 784L324 778L321 772L319 766L320 736L323 718L326 712L332 704L338 699L356 692L380 677L386 675L398 676L416 680L428 679L440 675L446 670L451 664L458 646L464 641L476 639L482 634L495 610L500 603L506 599L512 597L524 596ZM146 596L158 594L170 595L188 602L198 610L202 616L203 622L202 628L196 634L186 640L170 647L158 648L140 646L140 597Z" fill="#17cbe4" fill-rule="evenodd"/>
<path d="M728 278L740 275L746 274L758 277L765 280L770 286L772 292L773 298L771 310L767 322L760 334L746 349L734 357L722 361L710 362L704 360L698 357L693 352L690 346L688 334L689 322L695 310L710 291L716 285ZM446 446L458 445L464 448L470 455L474 466L475 478L466 520L462 532L458 539L453 544L446 549L428 556L416 571L410 575L404 577L397 574L392 550L386 544L350 532L302 520L290 519L284 520L278 524L257 544L254 546L248 547L244 544L244 538L248 532L259 520L269 514L278 512L284 508L291 496L295 478L300 472L302 471L323 466L344 463L386 465L416 459ZM146 609L158 605L164 604L176 607L182 610L188 616L190 622L187 628L181 634L176 637L164 640L156 640L140 634L140 611ZM506 615L512 614L514 616L512 628L517 646L516 658L512 674L506 680L482 682L464 693L458 692L454 688L453 682L464 658L470 652L479 646L486 640L502 622ZM380 693L386 690L392 690L397 694L398 700L392 716L386 723L380 726L374 727L371 724L369 718L369 712L374 700ZM440 766L446 764L452 765L458 767L466 772L476 784L480 796L479 802L476 804L452 804L446 803L440 799L433 790L431 778L433 772Z" fill="#20d5e1" fill-rule="evenodd"/>
<path d="M734 279L746 277L752 278L758 280L766 286L769 292L770 298L766 316L756 334L746 345L740 350L722 358L710 358L704 356L698 352L694 346L692 340L691 334L693 322L699 310L713 292L722 284ZM452 454L458 456L464 464L467 472L467 484L462 514L458 526L452 536L446 541L440 544L428 546L416 546L392 533L344 511L338 510L314 510L307 508L302 502L302 484L304 478L314 473L338 470L356 471L368 475L375 478L380 483L386 482L390 478L398 472L404 470L422 464L440 456ZM164 619L170 620L172 622L170 625L164 627L160 622ZM494 640L500 636L506 637L512 645L514 652L513 658L510 670L506 674L500 677L476 677L471 676L467 670L468 664L472 658ZM452 782L455 784L452 785L450 784Z" fill="#2adddd" fill-rule="evenodd"/>
<path d="M728 284L740 280L746 280L752 281L758 284L761 286L765 292L766 298L765 310L757 328L746 341L740 346L728 352L716 355L710 354L704 351L699 346L696 340L695 334L696 322L702 310L711 298L717 292ZM440 465L446 465L452 467L458 474L460 484L458 506L455 520L452 526L448 532L440 537L428 539L416 535L399 526L392 520L388 514L388 508L400 484L405 478L416 473ZM320 483L332 481L345 484L334 490L326 491L319 490L319 484ZM494 645L500 643L507 646L510 652L510 658L506 669L500 673L494 673L482 672L477 670L475 664L479 658Z" fill="#34e4d9" fill-rule="evenodd"/>
<path d="M734 285L746 283L752 284L758 288L761 292L763 298L763 304L760 316L752 330L740 343L734 346L722 351L716 351L710 350L704 346L700 340L698 334L699 322L705 310L716 296L722 291ZM422 477L434 474L440 474L446 475L449 478L453 484L453 496L449 520L445 526L440 530L434 532L428 532L414 526L405 520L401 514L400 508L400 502L405 490L410 484ZM494 650L500 649L505 652L506 660L505 664L500 669L494 670L488 670L481 664L484 658Z" fill="#3febd5" fill-rule="evenodd"/>
<path d="M728 290L740 286L746 286L752 288L757 292L759 298L759 310L752 325L746 333L740 339L728 346L716 348L710 346L704 340L702 334L703 322L705 316L713 304L722 294ZM422 484L434 481L440 482L443 484L446 490L446 499L442 514L440 520L434 523L428 523L420 520L412 514L409 508L411 496L414 490ZM494 655L500 656L501 658L498 664L494 665L489 664L491 658Z" fill="#48f1d0" fill-rule="evenodd"/>
<path d="M734 291L746 290L752 292L756 298L756 304L754 316L747 328L740 335L728 343L722 344L716 344L710 341L705 334L705 328L706 322L708 316L716 304L722 298ZM428 491L434 494L434 496L428 500L424 496Z" fill="#52f5cb" fill-rule="evenodd"/>
<path d="M728 297L740 293L746 293L752 298L753 304L752 310L746 324L737 334L728 339L722 340L716 340L710 334L708 328L709 322L716 309Z" fill="#5df9c7" fill-rule="evenodd"/>
<path d="M734 298L740 297L746 298L749 304L749 310L746 318L740 327L730 334L722 336L716 334L713 328L713 322L716 316L725 304Z" fill="#66fcc2" fill-rule="evenodd"/>
<path d="M734 302L740 302L743 304L744 310L743 316L739 322L734 327L728 330L722 330L719 328L718 322L720 316L728 306Z" fill="#70febc" fill-rule="evenodd"/>
<path d="M734 310L736 316L734 318L728 320L727 316Z" fill="#7affb7" fill-rule="evenodd"/>
</g>
<g fill="none" stroke="#000" stroke-width="0.85" stroke-linejoin="round">
<path d="M155.3 611.0 L157.9 611.0 L160.4 611.8 L163.0 611.9 L165.4 610.6 L167.8 608.9 L170.7 608.6 L173.1 610.2 L175.5 611.1 L177.8 612.0 L179.6 614.1 L181.7 615.6 L184.1 615.5 L183.4 615.6 L183.0 613.1 L180.7 612.1 L178.0 611.6 L176.0 609.8 L175.4 607.7 L177.4 605.9 L179.1 603.7 L178.8 600.7 L176.9 598.5 L175.6 596.4 L174.0 594.8 L174.7 592.7 L175.9 590.3 L176.0 588.0 L176.6 585.8 L178.1 583.9 L179.1 581.4 L180.0 578.7 L182.6 577.8 L185.2 578.7 L187.7 579.2 L190.1 580.0 L191.7 582.2 L193.6 583.9 L196.1 584.6 L198.6 585.4 L200.9 586.3 L203.1 587.6 L205.0 589.4 L207.5 590.6 L210.1 589.9 L212.4 588.5 L214.6 587.2 L217.2 587.1 L219.8 587.4 L222.2 587.3 L224.7 587.5 L227.2 588.2 L229.7 588.2 L232.3 587.7 L234.8 588.4 L237.0 589.8 L239.5 590.3 L242.0 590.8 L244.4 591.3 L246.9 591.7 L249.4 592.5 L251.8 593.4 L254.3 593.8 L256.8 593.7 L259.4 593.5 L261.9 593.6 L264.5 594.0 L267.0 593.9 L269.5 593.6 L271.9 593.3 L274.4 593.1 L276.8 593.9 L279.2 594.6 L281.7 594.9 L284.3 595.2 L286.8 595.2 L289.3 595.7 L291.8 595.8 L294.3 595.5 L296.8 596.3 L299.2 596.9 L301.8 596.7 L304.2 597.3 L306.6 598.1 L309.1 598.7 L311.7 599.0 L314.3 598.4 L316.9 597.0 L319.4 596.6 L321.8 597.9 L324.4 598.5 L326.6 597.0 L328.7 595.6 L331.2 595.0 L333.3 593.7 L335.2 592.0 L337.1 590.1 L339.6 589.6 L342.2 590.1 L344.6 591.0 L346.3 593.2 L347.8 594.9 L350.4 595.7 L352.8 596.6 L355.1 597.6 L357.1 599.3 L358.9 601.5 L361.2 602.3 L363.5 602.8 L365.8 604.0 L367.8 605.5 L369.1 607.8 L369.8 609.9 L370.5 612.3 L371.1 614.8 L372.2 617.2 L372.5 619.8 L371.7 622.3 L370.5 624.7 L369.4 626.9 L368.6 628.8 L366.8 630.5 L364.4 631.7 L362.4 633.7 L364.5 636.2 L366.2 637.9 L366.4 639.8 L368.5 641.8 L370.9 642.5 L373.3 642.7 L375.9 643.0 L378.4 643.2 L380.9 643.9 L383.6 644.3 L385.8 646.0 L386.9 648.3 L388.2 650.6 L389.8 652.4 L391.8 653.6 L394.2 654.4 L396.2 656.1 L397.9 658.2 L400.2 659.1 L402.4 660.4 L404.1 662.3 L406.2 663.7 L408.3 665.0"/>
<path d="M396.7 655.0 L397.0 657.6 L395.6 660.0 L395.3 662.5 L396.4 665.2 L395.8 667.4 L396.5 669.4 L398.6 670.9 L400.4 672.8 L402.7 674.1 L405.4 674.5 L407.7 675.6 L410.3 675.9 L412.8 676.2 L414.8 675.4 L417.1 674.5 L419.3 674.6 L421.7 673.6 L424.0 672.1 L426.5 671.7 L429.0 671.1 L431.3 670.0 L433.9 669.8 L436.6 669.8 L439.1 669.5 L441.5 668.6 L443.6 666.6 L445.8 665.1 L448.3 664.7 L450.8 664.1 L453.3 663.6 L455.8 663.0 L458.3 662.6 L460.9 662.5 L463.4 662.0 L465.9 661.6 L468.5 661.7 L470.8 662.4 L469.7 661.7 L467.5 663.1 L465.0 663.7 L462.4 664.1 L460.8 665.5 L461.8 667.3 L460.7 670.0"/>
<path d="M498.3 790.0 L500.5 788.7 L503.2 788.3 L505.2 786.9 L507.0 784.8 L508.9 783.2 L510.8 781.5 L513.2 780.6 L515.7 780.1 L516.9 780.6 L518.3 781.8 L521.2 782.1 L524.0 782.8 L524.8 785.5 L525.5 788.0 L527.2 789.9 L528.5 792.0 L529.9 794.1 L531.8 795.3 L533.9 796.7 L536.3 797.3 L538.9 797.7 L541.1 798.7 L543.3 799.2 L545.7 799.1 L548.3 799.9 L550.9 800.6 L553.3 799.6 L555.6 798.0 L558.0 797.1 L560.6 797.2 L563.1 797.0 L565.6 796.4 L568.3 796.4 L570.5 797.9 L572.0 800.5 L574.3 801.4 L577.2 801.6 L578.5 803.9 L579.7 806.1 L581.4 808.0 L582.5 810.3 L583.2 812.7 L583.7 815.1 L585.4 817.2 L586.7 819.5 L586.6 822.1 L586.8 824.6 L588.2 826.6 L589.8 828.6 L591.4 830.6 L593.5 832.0 L595.9 833.0 L597.0 835.1 L598.4 837.2 L599.7 839.4 L599.4 842.2 L599.8 844.8 L601.7 846.8 L604.3 847.1 L606.7 847.8 L609.0 848.8 L611.0 850.8 L613.1 852.4 L616.0 852.2 L618.5 851.3 L621.1 851.3 L623.4 850.4 L625.6 848.9 L628.2 848.2 L630.7 848.5 L632.3 850.8 L633.4 853.0 L635.0 855.0 L636.3 857.0 L637.1 859.3 L638.1 861.7 L639.6 863.8 L641.3 865.6 L643.3 866.7 L645.5 867.6 L647.8 868.7 L650.0 870.0"/>
<path d="M630.0 871.7 L628.5 873.7 L626.5 875.4 L624.9 877.3 L623.4 879.3 L621.9 880.7 L619.9 881.7 L618.1 883.6 L616.0 885.1 L613.5 885.6 L611.3 887.0 L609.8 889.1 L608.3 891.0 L606.9 893.2 L605.9 895.6 L603.7 897.1 L601.6 898.6 L600.1 900.7 L599.3 903.1 L598.8 905.6 L598.4 908.1 L598.4 910.7 L598.0 913.2 L596.7 915.5 L595.0 917.6 L594.1 919.8 L594.1 922.5 L594.2 925.1 L594.0 927.9 L592.0 929.5 L589.4 929.8 L587.0 930.5 L584.7 931.6 L582.0 931.7 L579.6 932.0 L577.2 932.7 L575.0 933.6 L572.9 934.1 L570.7 933.2 L568.4 932.1 L566.5 930.5 L564.3 929.2 L561.9 928.4 L559.5 927.7 L557.3 926.3 L555.4 924.5 L553.1 923.7 L550.6 923.0 L548.5 921.6 L546.4 920.0 L544.1 918.8 L541.6 918.4 L538.9 918.1 L537.5 920.0 L536.3 922.1 L534.5 924.0 L532.9 925.9 L531.2 927.9 L530.4 930.3 L529.3 932.6 L528.1 934.8 L527.6 937.4 L526.5 939.7 L525.4 941.9 L524.3 944.2 L522.8 946.2 L521.3 948.3 L519.6 950.2 L517.9 952.0 L517.1 954.5 L516.4 957.0 L515.0 959.1 L513.8 961.3 L512.4 963.4 L511.0 965.5 L510.3 967.9 L511.2 970.0 L512.5 972.1 L513.9 974.3 L513.6 977.2 L514.5 979.5 L517.1 981.3 L516.2 983.5 L514.1 981.2 L511.4 981.1 L508.8 980.9 L506.6 979.7 L504.0 979.3 L501.7 978.3 L499.7 976.6 L497.2 976.0 L494.8 975.4 L493.0 973.8 L490.4 973.5 L488.0 974.0 L485.6 975.0 L483.2 975.8 L480.8 976.4 L478.3 976.9 L475.7 977.3 L473.2 976.9 L470.8 976.2 L468.3 975.7 L465.9 975.9 L463.7 976.9 L461.1 977.0 L458.5 976.6 L456.1 977.4 L453.7 978.1 L451.6 979.1 L450.7 980.3 L452.7 981.8 L454.7 983.4 L457.2 984.2 L459.6 984.9 L460.7 987.0 L461.3 989.5 L461.1 992.0 L461.0 994.5 L460.6 996.8 L459.7 999.2 L458.6 1001.5 L458.6 1004.1 L458.2 1006.6 L457.7 1009.1 L458.4 1011.7 L457.9 1014.2 L456.6 1016.5 L456.2 1019.0 L456.2 1021.6 L455.4 1024.0 L454.4 1026.4 L454.7 1029.0 L455.1 1031.5 L455.2 1034.1 L454.1 1036.3 L451.9 1037.6 L449.3 1038.7 L447.6 1040.5 L446.6 1043.1 L445.8 1045.5 L444.5 1047.8 L443.6 1050.1 L442.8 1052.5 L442.2 1054.8 L441.3 1057.1 L440.4 1059.4 L439.9 1062.0 L439.1 1064.3 L438.4 1066.7 L437.9 1069.2 L438.3 1071.7"/>
<path d="M438.3 1071.7 L435.8 1072.0 L433.5 1073.2 L430.9 1073.3 L428.0 1072.5 L425.6 1073.4 L423.5 1075.0 L421.2 1076.1 L418.9 1077.4 L416.5 1078.0 L414.0 1078.6 L411.8 1079.9 L409.5 1081.0 L407.1 1081.8 L404.7 1082.5 L402.3 1083.3 L399.9 1084.1 L397.2 1084.0 L394.8 1084.4 L392.4 1085.4 L389.8 1085.3 L387.1 1085.0 L384.7 1085.4 L382.2 1085.7 L379.8 1086.4 L377.3 1087.4 L374.8 1087.4 L372.2 1086.6 L369.6 1086.7 L367.3 1088.0 L364.7 1088.3 L362.2 1087.8 L359.7 1088.2 L357.2 1088.2 L354.6 1087.4 L352.1 1087.2 L349.3 1087.6 L347.4 1089.7 L345.6 1091.5 L343.5 1092.9 L341.4 1094.4 L339.7 1096.1 L337.9 1097.9 L336.3 1099.9 L334.9 1102.0 L333.3 1103.5 L331.7 1103.9 L329.3 1103.9 L326.9 1103.2 L324.3 1103.1 L321.7 1103.4 L319.1 1103.6 L316.5 1102.8 L315.4 1100.6 L315.2 1098.3 L313.1 1096.2 L312.4 1094.7 L311.2 1094.9 L308.8 1095.2 L306.2 1095.2 L303.6 1094.8 L301.5 1096.4 L299.3 1097.6 L296.6 1097.8 L294.4 1099.1 L292.2 1100.5 L289.6 1100.5 L286.7 1099.9 L283.9 1099.7 L281.6 1100.9 L279.6 1102.7 L277.6 1104.4 L275.4 1105.7 L272.8 1106.2 L270.3 1106.5 L268.0 1107.8 L266.0 1109.2 L264.1 1110.8 L262.8 1113.0 L261.1 1115.0 L258.9 1116.3 L257.2 1118.1 L256.6 1120.5 L255.4 1122.7 L254.4 1125.1 L254.1 1127.5 L253.5 1129.9 L253.6 1132.7 L255.3 1134.7 L256.9 1136.8 L257.4 1139.3 L258.3 1141.7"/>
<path d="M438.3 1071.7 L437.7 1069.2 L436.5 1067.0 L435.3 1064.7 L434.6 1062.3 L434.3 1059.8 L434.6 1057.1 L434.1 1054.2 L431.1 1053.6 L428.3 1053.5 L425.9 1052.8 L423.7 1051.6 L421.9 1049.6 L419.7 1048.3 L417.4 1047.0 L415.1 1045.7 L413.2 1044.2 L412.0 1042.1 L410.4 1040.1 L408.3 1038.6 L406.1 1037.4 L403.8 1036.5 L401.3 1035.9 L398.8 1035.7 L396.5 1034.7 L394.3 1032.7 L391.9 1031.9 L389.3 1032.4 L386.8 1032.3 L384.3 1031.8 L381.9 1031.2 L379.5 1030.3 L377.2 1029.5 L374.9 1028.2 L372.7 1027.1 L370.2 1026.5 L367.6 1026.4 L365.0 1026.5 L362.5 1026.3 L360.3 1024.6 L358.0 1023.1 L355.3 1023.7 L352.7 1024.3 L350.2 1023.6 L347.9 1022.7 L345.5 1021.8 L343.2 1020.8 L340.7 1020.3 L338.1 1020.4 L335.8 1019.6 L333.7 1018.1 L331.2 1017.5 L328.5 1017.4 L326.6 1015.5 L324.9 1013.3 L322.4 1012.6 L320.0 1011.9 L317.7 1010.8 L315.5 1009.7 L313.3 1008.5 L311.1 1007.2 L309.3 1005.4 L307.9 1003.2 L305.8 1001.5 L303.2 1002.3 L301.0 1003.6 L298.5 1003.9 L296.3 1004.5 L294.6 1006.2 L292.3 1007.3 L289.3 1007.3 L287.2 1008.9 L286.5 1011.5 L285.2 1013.6 L284.2 1015.9 L282.9 1018.0 L281.0 1019.4 L281.0 1019.3 L278.7 1019.4 L275.9 1019.2 L273.7 1017.9 L271.6 1016.5 L269.6 1014.9 L268.4 1012.4 L266.6 1010.7 L264.2 1009.7 L262.0 1008.9 L259.7 1007.9 L257.6 1006.4 L255.2 1005.7 L252.7 1005.3 L250.7 1003.5 L248.8 1001.2 L246.5 1000.2 L243.9 1000.0 L241.4 998.9 L238.6 999.1 L236.2 1000.6 L233.9 1001.5 L231.6 1002.6 L229.7 1004.1 L228.5 1006.3 L226.7 1008.1 L224.1 1009.2 L222.4 1010.6 L220.6 1012.1 L218.6 1013.6 L216.5 1015.1 L214.1 1015.8 L211.6 1016.2 L209.4 1017.4 L207.1 1018.4 L204.7 1019.3 L202.2 1019.7 L199.9 1020.4 L197.7 1021.9 L195.3 1022.5 L192.7 1022.3 L190.2 1022.8 L187.9 1024.0 L185.6 1025.1 L183.2 1025.7 L180.6 1025.8 L178.2 1026.4 L176.0 1028.1 L173.6 1028.5 L171.0 1028.8 L168.8 1030.1 L166.7 1031.5 L164.7 1033.0 L162.7 1034.6 L160.3 1035.5 L157.8 1036.0 L155.3 1036.7"/>
<path d="M226.7 1015.0 L224.3 1016.2 L223.0 1018.3 L220.6 1019.2 L217.7 1019.1 L215.6 1020.4 L214.0 1022.9 L211.9 1024.3 L209.8 1025.7 L208.0 1028.3 L205.6 1028.9 L202.6 1028.2 L200.3 1029.2 L198.5 1030.5 L197.8 1030.9 L198.5 1033.5 L199.8 1035.7 L201.9 1037.2 L205.0 1037.9 L207.4 1039.0 L208.6 1040.9 L210.2 1042.8 L211.9 1044.8 L213.8 1046.6 L215.6 1048.3 L217.7 1049.9 L220.1 1050.7 L222.6 1051.5 L224.3 1050.3 L226.0 1048.3 L227.6 1046.4 L228.5 1044.0 L229.9 1041.9 L229.8 1044.2 L231.1 1046.3 L233.1 1048.3 L233.8 1050.6 L234.7 1052.9 L236.0 1055.1 L237.6 1057.0 L239.6 1058.5 L241.8 1060.1 L243.9 1061.7 L245.5 1063.6 L246.6 1065.8 L247.4 1068.1 L249.4 1069.7 L251.7 1070.7 L254.2 1071.0 L256.4 1072.1 L256.8 1071.4 L255.1 1072.7 L252.7 1073.5 L250.6 1075.0 L248.5 1076.5 L246.0 1077.2 L243.5 1077.6 L240.9 1077.8 L238.6 1078.7 L236.3 1079.7 L234.0 1080.9 L231.9 1082.7 L229.6 1083.5 L226.9 1083.6 L224.3 1083.4 L221.8 1083.3 L219.3 1082.8 L216.7 1082.7 L214.3 1081.5 L212.2 1079.9 L209.9 1078.9 L207.7 1078.0 L205.7 1076.7 L203.6 1075.4 L201.9 1073.5 L200.2 1071.5 L197.6 1071.1 L195.3 1070.1 L193.2 1068.5 L190.6 1068.4 L188.0 1068.5 L185.5 1067.8 L182.9 1066.6 L185.6 1065.4 L188.0 1064.6 L190.3 1063.6 L192.8 1062.8 L194.9 1061.2 L196.4 1059.1 L197.9 1057.0 L199.5 1055.2 L199.8 1052.9 L199.2 1049.8 L196.3 1050.0 L194.2 1051.6 L192.3 1053.3 L190.2 1054.7 L187.8 1055.4 L185.4 1056.0 L183.1 1057.2 L180.8 1058.4 L178.4 1057.8 L176.2 1056.4 L174.1 1054.6 L171.3 1054.0 L169.0 1055.7 L167.3 1057.6 L165.4 1059.3 L164.3 1061.6 L163.0 1064.0 L160.3 1064.3 L157.6 1063.8 L155.3 1065.0"/>
<path d="M155.3 1088.3 L157.8 1089.3 L160.4 1088.4 L163.0 1088.3 L165.4 1089.0 L168.0 1088.9 L170.7 1089.0 L172.9 1090.7 L174.8 1092.7 L177.1 1093.8 L179.7 1094.2 L182.3 1094.2 L184.9 1094.5 L187.2 1095.6 L189.4 1097.0 L191.7 1098.4 L194.2 1098.8 L196.6 1099.0 L198.7 1100.2 L200.8 1101.7 L202.9 1103.0 L205.1 1104.3 L206.9 1106.1 L209.2 1107.3 L211.6 1108.3 L213.4 1110.2 L214.6 1112.7 L216.5 1114.4 L219.0 1115.2 L221.4 1116.3 L223.2 1117.8 L225.3 1117.1 L227.6 1116.1 L230.1 1115.5 L232.7 1115.1 L235.0 1114.2 L237.3 1113.4 L239.7 1114.3 L242.1 1115.1 L244.1 1117.0 L246.4 1118.2 L249.3 1117.5 L251.7 1117.7 L254.1 1118.7 L256.7 1118.3"/>
<path d="M155.3 1075.0 L157.9 1075.2 L160.5 1075.2 L162.9 1076.2 L165.2 1077.3 L167.9 1077.1 L170.4 1077.5 L172.6 1079.5 L174.9 1080.8 L177.5 1080.7 L180.3 1079.9 L183.3 1080.3 L184.1 1083.3 L184.4 1085.9 L186.1 1088.2 L188.6 1088.1 L191.1 1087.7 L193.7 1087.3 L196.1 1086.6 L198.4 1085.5 L200.4 1085.9 L201.4 1088.2 L203.3 1090.0"/>
<path d="M166.7 1141.7 L176.7 1135.0 L186.7 1138.3 L190.0 1141.7"/>
<path d="M650.0 870.0 L652.2 868.8 L654.5 867.7 L656.7 866.6 L659.1 865.8 L661.0 864.1 L663.0 862.1 L665.7 861.9 L668.3 861.9 L670.7 861.2 L673.1 860.5 L675.6 860.2 L677.9 859.3 L680.1 857.8 L682.7 857.6 L685.3 857.6 L687.6 856.6 L689.6 854.7 L691.4 852.8 L694.1 852.6 L696.6 852.0 L698.8 850.7 L701.0 849.6 L702.9 847.8 L704.8 846.0 L707.2 845.1 L709.8 844.9 L712.3 844.2 L714.7 843.4 L716.7 841.8 L718.9 840.4 L721.5 840.2 L723.9 839.6 L726.2 838.4 L728.5 837.5 L731.0 837.1 L733.4 836.3 L735.7 835.4 L737.9 834.2 L740.0 832.4 L742.2 831.3 L744.7 830.8 L747.2 830.1 L749.3 828.7 L751.5 827.6 L754.0 827.0 L756.0 825.6 L757.4 826.7 L758.4 829.0 L760.2 830.9 L762.4 832.2 L765.0 832.5 L767.5 832.8 L770.1 832.6 L772.6 832.6 L775.0 833.4 L777.5 833.9 L780.0 834.3 L782.4 835.2 L784.9 835.1 L787.5 834.4 L789.9 835.4 L792.3 836.7 L794.6 837.2 L795.8 838.0 L796.0 840.0 L797.4 842.3 L798.5 844.7 L798.6 847.1 L799.0 849.7 L801.0 851.6 L803.7 852.0 L806.3 852.3 L808.3 854.0 L810.3 855.8 L812.7 856.8 L815.4 856.3 L818.1 855.4 L820.4 856.9 L822.6 858.5 L825.2 858.3 L827.7 858.0 L830.2 857.6 L832.7 857.3 L835.2 857.1 L837.6 856.2 L840.1 855.5 L842.9 855.6 L845.2 857.2 L846.8 859.4 L849.2 860.3 L851.3 861.7 L852.5 864.4 L855.0 865.3 L858.1 864.3 L860.5 865.1 L862.7 867.1 L865.3 866.4 L867.1 864.4 L868.3 862.0 L869.9 859.9 L872.1 858.7 L874.1 857.2 L875.3 854.8 L876.6 852.6 L878.6 851.6 L879.3 849.8 L879.3 847.2 L879.5 844.6 L879.2 842.1 L877.8 839.9 L876.7 837.6 L876.1 835.1 L875.4 832.7 L875.2 830.2 L874.8 827.7 L874.3 825.3 L874.3 822.8 L874.7 820.8 L875.1 818.3 L875.8 815.9 L877.2 813.7 L878.4 811.5 L879.3 809.1 L880.9 807.2 L883.4 806.2 L886.1 805.4 L887.2 802.9 L887.5 799.6 L889.4 798.0 L892.2 797.1 L893.9 795.3 L894.7 792.7 L896.0 790.3 L898.4 789.9 L900.8 791.1 L902.8 792.6 L905.2 793.5 L907.4 794.6 L909.4 796.3 L912.0 796.8 L914.6 797.1 L916.7 798.5 L918.7 800.1 L920.7 801.8 L922.9 803.1 L925.4 803.7 L927.9 803.6 L930.5 803.7 L932.9 804.4 L935.3 805.4 L937.9 805.6 L940.5 805.7 L942.8 806.9 L944.9 808.4 L947.0 809.7 L949.2 811.1 L951.6 812.0 L953.9 812.8 L956.1 814.0 L958.4 814.9 L960.2 816.2 L961.8 818.1 L962.3 820.7 L962.7 823.3 L964.8 825.0 L965.8 827.3 L965.5 829.9 L964.7 832.5 L965.2 835.0 L967.3 837.1 L968.9 838.2 L970.3 840.1 L971.8 842.4 L973.6 844.4 L976.0 845.4 L978.5 845.9 L980.9 846.6 L983.5 846.8 L986.0 847.3 L988.2 848.6 L990.5 849.6 L993.0 849.9 L995.3 850.9 L997.6 852.5 L1000.3 851.7 L1002.6 850.1 L1005.2 850.7 L1007.8 851.2 L1010.1 849.9 L1012.1 848.1 L1014.3 846.9 L1016.8 846.4 L1019.4 846.0 L1021.8 845.5 L1024.3 844.9 L1026.8 845.2 L1029.2 846.2 L1031.7 846.6 L1034.3 846.0 L1036.7 846.7 L1039.3 846.6 L1041.7 845.8 L1044.0 844.8 L1046.1 842.9 L1048.6 841.6 L1051.4 842.6 L1053.7 844.3 L1056.1 845.0 L1058.6 845.4 L1061.1 846.0 L1063.3 847.0 L1064.9 849.0 L1066.7 851.0 L1068.6 852.6 L1071.1 853.5 L1073.8 854.0 L1076.5 854.4 L1079.0 854.0 L1081.5 853.7 L1084.0 854.1 L1086.1 854.0 L1087.3 855.6 L1088.4 857.9 L1088.5 860.6 L1089.5 863.2 L1091.7 864.8 L1093.6 866.4 L1095.7 868.0 L1097.9 869.4 L1100.2 870.8 L1102.6 871.3 L1105.3 871.0 L1107.8 871.3 L1110.3 871.7 L1112.8 872.0 L1115.3 872.7 L1117.8 872.1 L1120.3 871.7 L1122.8 871.8 L1125.2 872.4 L1127.6 873.0 L1130.1 873.4 L1132.5 874.1 L1134.9 875.1 L1137.3 876.4 L1140.0 876.7 L1142.5 875.7 L1145.0 875.4 L1147.5 875.7 L1150.0 875.0"/>
<path d="M650.0 871.7 L650.8 874.1 L651.8 876.3 L652.5 878.7 L652.7 881.4 L653.7 883.7 L655.7 885.5 L657.5 887.2 L658.9 889.3 L660.4 891.3 L661.9 893.3 L663.7 895.1 L665.7 896.6 L667.5 898.2 L669.9 899.2 L671.8 900.8 L673.0 903.4 L675.1 904.8 L677.9 905.2 L679.2 907.6 L680.8 909.7 L683.6 910.0 L685.2 912.2 L686.8 914.3 L689.6 914.6 L692.2 915.2 L694.5 916.7 L694.7 919.6 L694.2 922.5 L695.4 924.8 L697.3 926.6 L699.1 928.5 L700.4 930.6 L701.6 932.9 L703.0 934.9 L704.6 936.8 L706.0 938.9 L706.8 941.4 L708.0 943.6 L709.8 945.4 L710.8 947.8 L711.3 950.4 L711.7 952.3 L711.2 954.3 L711.6 956.9 L712.8 959.5 L713.5 962.1 L712.4 964.5 L711.5 966.9 L711.5 969.4 L710.1 971.6 L708.4 973.5 L707.8 976.0 L707.2 978.5 L706.2 980.8 L705.5 983.3 L704.0 985.2 L702.1 987.4 L701.1 989.8 L701.8 992.4 L702.3 994.9 L702.4 997.3 L703.2 999.2 L703.9 1001.8 L705.7 1003.6 L708.0 1004.9 L710.0 1006.3 L712.2 1007.5 L714.2 1009.2 L716.6 1009.7 L719.3 1009.8 L721.4 1011.4 L723.5 1012.7 L726.1 1013.0 L728.6 1013.3 L731.1 1013.0 L733.6 1013.2 L735.9 1015.2 L738.4 1015.7 L741.0 1014.5 L743.5 1014.7 L746.0 1015.0 L748.5 1014.9 L750.9 1015.9 L753.4 1016.0 L756.0 1015.5 L758.4 1016.3 L760.9 1016.8 L763.4 1016.4 L766.2 1015.8 L768.5 1017.0 L770.6 1018.6 L772.9 1019.6 L775.3 1020.5 L777.1 1022.3 L778.4 1024.8 L780.1 1026.7 L782.8 1027.5 L784.7 1029.2 L785.6 1031.8 L787.1 1033.8 L789.1 1035.3 L790.7 1037.4 L792.7 1039.1 L795.0 1040.0 L797.5 1040.6 L800.2 1040.8 L802.6 1041.8 L804.5 1043.7 L806.1 1045.9 L807.3 1048.1 L807.9 1050.6 L808.9 1052.9 L810.7 1054.8 L811.7 1057.2 L812.6 1059.5 L814.0 1061.7 L814.0 1064.3 L813.6 1067.2 L814.6 1069.5 L816.4 1071.5 L818.2 1073.3 L819.8 1075.2 L821.7 1076.8 L823.0 1079.1 L824.2 1081.3 L826.6 1082.4 L828.7 1084.1 L829.4 1086.6 L830.0 1089.0 L831.0 1091.3 L831.9 1093.6 L834.5 1093.8 L837.0 1094.0 L839.5 1094.4 L842.1 1094.1 L844.6 1093.9 L847.1 1094.0 L849.5 1094.6 L852.0 1095.5 L854.5 1095.6 L857.0 1095.0 L859.5 1095.2 L862.1 1094.9 L864.6 1094.2 L867.1 1094.6 L869.6 1095.3 L872.0 1096.3 L874.5 1096.5 L877.0 1096.1 L879.5 1097.3 L881.9 1098.1 L884.4 1097.7 L887.0 1097.6 L889.5 1097.7 L891.9 1098.7 L894.3 1100.1 L896.8 1099.7 L899.4 1098.6 L901.9 1099.3 L904.3 1100.9 L906.7 1101.7 L909.3 1101.0 L911.9 1100.0 L914.4 1100.6 L917.0 1101.0 L919.4 1100.1 L921.8 1099.0 L924.3 1098.6 L926.8 1098.4 L929.3 1098.1 L931.8 1097.6 L934.2 1097.3 L936.8 1098.0 L939.3 1098.0 L941.8 1097.5 L944.3 1097.6 L946.8 1097.5 L949.3 1096.8 L951.7 1097.1 L953.9 1098.4 L956.3 1099.1 L958.8 1099.7 L961.2 1100.4 L963.5 1101.4 L965.1 1103.5 L966.8 1105.3 L968.5 1107.2 L970.4 1108.8 L972.5 1109.9 L974.9 1110.7 L977.2 1111.5 L979.6 1112.5 L981.9 1113.3 L984.2 1114.3 L986.7 1114.8 L989.2 1115.1 L991.4 1116.6 L993.6 1117.8 L996.0 1118.4 L998.4 1119.1 L1000.9 1119.4 L1003.3 1120.2 L1005.5 1121.7 L1007.7 1122.8 L1010.2 1123.4 L1012.7 1123.9 L1015.0 1124.7 L1017.5 1125.0 L1020.0 1124.6 L1022.5 1124.2 L1025.0 1124.0 L1027.5 1124.3 L1030.0 1125.1 L1032.4 1125.5 L1034.9 1125.7 L1037.3 1126.5 L1039.4 1127.9 L1041.6 1129.2 L1043.6 1127.5 L1045.5 1125.9 L1047.5 1124.4 L1049.5 1122.9 L1051.4 1121.4 L1053.4 1119.9 L1055.4 1118.3 L1057.5 1116.8 L1059.8 1115.8 L1061.9 1114.4 L1064.0 1112.7 L1066.5 1112.2 L1069.2 1112.3 L1071.6 1111.4 L1073.8 1110.3 L1076.3 1109.8 L1078.7 1109.1 L1081.0 1107.9 L1082.9 1106.3 L1085.0 1104.8 L1087.5 1104.2 L1089.9 1103.5 L1092.2 1102.5 L1094.7 1101.8 L1097.0 1101.2 L1099.3 1100.9 L1101.7 1100.4 L1104.2 1100.1 L1106.8 1100.3 L1109.3 1100.2 L1111.7 1099.3 L1114.1 1098.3 L1116.4 1097.3 L1118.8 1096.6 L1121.4 1097.2 L1124.0 1097.6 L1126.4 1096.8 L1128.9 1097.1 L1131.5 1096.9 L1133.8 1095.2 L1135.8 1093.3 L1138.0 1092.0 L1140.4 1091.2 L1143.0 1091.0 L1145.7 1091.0 L1148.2 1090.7 L1150.0 1088.3"/>
<path d="M1050.0 843.3 L1052.6 843.0 L1055.2 842.7 L1057.7 843.2 L1060.2 844.3 L1061.8 846.6 L1063.5 848.6 L1066.0 849.3 L1068.3 850.4 L1070.4 851.8 L1072.9 852.3 L1075.4 852.4 L1077.9 852.7 L1080.3 853.7 L1082.8 853.6 L1085.3 853.3 L1087.0 854.5 L1087.6 856.9 L1088.3 859.4 L1090.0 861.4 L1092.1 862.7 L1093.5 864.9 L1094.9 867.1 L1096.2 869.5 L1098.3 871.6 L1101.6 870.8 L1104.3 870.1 L1106.8 870.2 L1109.4 869.7 L1111.9 869.8 L1114.3 870.4 L1116.8 870.9 L1119.3 871.4 L1121.8 872.0 L1124.1 873.0 L1126.6 873.6 L1129.0 874.4 L1131.3 875.4 L1133.9 875.7 L1136.5 875.1 L1139.0 875.4 L1141.6 876.1 L1144.1 875.3 L1146.4 873.7 L1148.8 873.0 L1151.2 872.5 L1153.6 871.8 L1155.8 870.5 L1157.6 868.6 L1159.8 867.4 L1162.5 867.1 L1165.0 866.9 L1167.3 866.0 L1169.7 865.1 L1172.1 864.3 L1174.4 863.2 L1176.9 862.8 L1179.4 862.5 L1181.7 861.5 L1183.8 860.0 L1185.9 858.3 L1188.2 857.5 L1190.8 857.2 L1193.2 856.3 L1195.5 855.3 L1197.5 854.0 L1199.3 852.3 L1201.0 850.4 L1202.2 848.2 L1203.5 845.9 L1204.9 843.8 L1206.9 842.2 L1208.9 840.7 L1210.7 838.9 L1212.6 837.2 L1214.3 835.4 L1215.5 833.2 L1217.1 831.2 L1219.8 831.3 L1222.3 830.7 L1224.2 828.5 L1226.6 827.8 L1229.3 827.8 L1231.7 827.9 L1234.1 828.8 L1236.6 829.3 L1238.8 830.6 L1240.6 832.8 L1242.8 834.0 L1245.2 834.8 L1247.4 836.0 L1249.8 837.4 L1252.6 837.0 L1254.9 836.0 L1257.0 834.5 L1259.4 833.5 L1262.0 833.3 L1264.4 832.4 L1266.2 830.6 L1268.2 831.3 L1270.3 832.8 L1272.7 833.5 L1275.2 834.0 L1277.8 834.1 L1280.5 834.3 L1282.8 835.0 L1284.9 836.6 L1287.3 837.3 L1289.8 837.3 L1292.2 838.2 L1294.5 839.5 L1296.8 840.8 L1299.5 840.6 L1301.9 839.6 L1303.8 838.0 L1305.8 836.4 L1307.2 834.3 L1309.1 832.6 L1310.7 830.9 L1311.4 828.0 L1313.2 826.2 L1315.9 825.5 L1317.5 823.8 L1319.5 822.3 L1322.2 822.3 L1324.7 821.7 L1326.7 819.8 L1328.4 818.0 L1328.3 815.5 L1328.1 813.0 L1327.2 810.5 L1326.9 808.1 L1326.0 805.8 L1324.5 804.5 L1325.3 802.9 L1324.4 800.2 L1323.9 797.6 L1324.6 795.2 L1325.4 792.8 L1325.8 790.3 L1326.5 787.9 L1327.2 785.5 L1328.0 783.1 L1329.0 780.7 L1329.5 778.2 L1329.7 775.7 L1329.8 773.2 L1330.2 770.7 L1331.4 768.4 L1332.3 766.1 L1333.4 764.1 L1334.1 761.7 L1334.3 758.8 L1335.7 756.7 L1337.4 754.8 L1338.1 752.4 L1338.9 750.5 L1340.3 748.2 L1340.9 745.8 L1340.0 743.2 L1338.5 741.1 L1337.9 739.5 L1337.6 736.9 L1336.5 734.6 L1335.4 732.4 L1333.2 731.7 L1330.8 731.7 L1328.2 731.3 L1325.7 731.1 L1323.5 730.7 L1322.7 730.5 L1322.3 728.3 L1322.7 725.8 L1323.8 723.5 L1324.1 721.2 L1324.8 718.6 L1326.0 716.3 L1327.1 714.0 L1328.5 712.0 L1330.9 710.7 L1333.0 709.1 L1334.7 707.2 L1336.7 705.7 L1339.2 705.0 L1341.7 704.3 L1343.5 702.4 L1345.1 700.3 L1347.4 699.1 L1349.8 698.3 L1352.1 697.2 L1354.4 696.3 L1357.2 696.5 L1359.7 696.1 L1361.8 694.6 L1364.0 693.3 L1366.2 692.1 L1368.6 691.3 L1371.0 690.5 L1373.3 689.2 L1375.9 689.4 L1378.6 690.7 L1381.2 691.1 L1383.5 689.5 L1385.9 688.6 L1388.0 690.0 L1390.3 690.7 L1392.8 691.2 L1395.2 691.9 L1397.7 692.4 L1400.1 693.0 L1402.6 693.0 L1405.1 693.4 L1407.6 693.8 L1410.2 693.7 L1412.3 695.7"/>
<path d="M1274.0 833.3 L1274.0 835.9 L1273.7 838.4 L1273.8 840.9 L1273.9 843.4 L1272.7 845.8 L1271.4 848.2 L1270.7 850.6 L1270.3 853.0 L1269.6 855.4 L1268.9 857.8 L1269.3 860.5 L1269.7 863.1 L1269.6 865.6 L1268.5 868.0 L1268.1 870.4 L1269.2 873.2 L1268.4 875.6 L1266.0 877.7 L1264.8 880.0 L1264.5 882.5 L1264.3 885.0 L1263.4 887.4 L1262.6 889.8 L1262.7 892.6 L1264.2 894.8 L1266.2 896.4 L1268.1 898.0 L1269.1 900.5 L1270.3 902.8 L1272.2 904.9 L1274.4 904.2 L1275.3 901.5 L1277.2 899.8 L1279.3 898.1 L1281.7 896.6 L1284.3 896.7 L1286.9 897.7 L1289.5 897.7 L1291.9 897.4 L1294.2 897.4 L1296.8 897.5 L1299.3 898.1 L1301.6 899.2 L1303.7 900.6 L1306.1 901.9 L1308.0 900.4 L1309.5 898.3 L1311.6 896.8 L1313.2 895.0 L1314.3 892.7 L1316.3 891.1 L1318.1 889.3 L1320.2 887.9 L1322.7 887.3 L1325.0 887.5 L1327.5 887.4 L1329.9 888.1 L1332.2 889.4 L1334.4 890.5 L1336.5 891.3 L1338.6 892.3 L1340.7 893.8 L1342.5 895.6 L1344.3 897.3 L1346.1 899.1 L1348.2 900.5 L1350.3 901.9 L1351.8 904.0 L1353.9 905.5 L1356.7 905.9 L1359.0 907.1 L1360.7 908.9 L1362.5 910.7 L1364.7 912.2 L1366.2 914.3 L1366.6 917.0 L1367.5 919.3 L1367.1 921.0 L1365.1 922.7 L1362.7 923.5 L1360.3 924.0 L1358.0 924.0 L1355.6 924.5 L1353.1 924.4 L1350.6 924.3 L1348.1 924.9 L1345.6 925.2 L1343.2 926.0 L1341.3 928.2 L1339.0 929.2 L1336.4 929.2 L1334.2 930.6 L1331.9 931.9 L1329.3 931.9 L1326.6 931.5 L1324.0 931.5 L1321.5 932.2 L1319.4 933.8 L1317.1 934.9 L1316.1 937.0 L1315.8 939.6 L1315.1 942.1 L1313.4 944.5 L1310.4 944.5 L1308.0 945.2 L1305.8 946.5 L1303.1 946.3 L1300.5 946.3 L1299.4 948.7 L1298.5 951.1 L1296.4 952.6 L1293.6 953.7 L1292.2 956.0 L1292.3 958.7 L1291.9 961.1 L1291.6 963.6 L1292.2 966.2 L1291.9 968.8 L1289.7 970.4 L1287.9 972.1 L1286.3 974.1 L1284.4 975.7 L1282.2 976.9 L1280.1 978.2 L1277.9 979.5 L1275.3 979.8 L1272.6 979.8 L1270.1 980.1 L1268.0 981.4 L1265.9 983.2 L1263.6 984.6 L1261.1 985.0 L1258.6 985.0 L1256.4 985.6 L1254.4 987.3 L1253.1 989.5 L1252.5 992.0 L1250.8 993.9 L1248.4 995.2 L1246.6 996.9 L1244.8 998.7 L1243.4 1000.8 L1242.6 1003.4 L1241.2 1005.6 L1239.6 1007.6 L1237.5 1009.2 L1234.8 1009.3 L1232.3 1008.7 L1229.8 1008.5 L1227.3 1008.7 L1224.8 1008.1 L1222.5 1006.9 L1220.2 1005.9 L1217.6 1005.8 L1215.1 1005.3 L1212.8 1004.4 L1210.4 1003.5 L1207.9 1003.0 L1205.3 1002.6 L1202.8 1002.5 L1200.4 1003.5 L1198.0 1005.0 L1195.7 1006.0 L1194.2 1006.2 L1193.2 1007.9 L1192.2 1010.2 L1191.6 1012.7 L1190.9 1015.1 L1190.1 1017.5 L1189.5 1019.9 L1189.5 1022.5 L1188.8 1024.7 L1189.7 1026.8 L1191.8 1028.3 L1193.2 1030.5 L1193.6 1033.4 L1195.5 1035.0 L1197.6 1036.5 L1198.9 1038.8 L1200.6 1040.6 L1202.5 1042.3 L1202.8 1044.3 L1201.4 1046.4 L1199.9 1048.5 L1197.9 1050.1 L1195.9 1051.2 L1194.6 1053.4 L1193.4 1055.8 L1192.0 1058.1 L1190.9 1060.2 L1188.7 1061.5 L1186.0 1062.6 L1184.2 1064.4 L1182.7 1066.4 L1181.0 1068.3 L1179.6 1070.3 L1178.4 1072.6 L1177.5 1075.0 L1176.5 1077.4 L1174.5 1079.1 L1172.3 1080.4 L1170.5 1082.1 L1168.9 1084.2 L1166.8 1085.6 L1164.2 1086.3 L1161.9 1087.4 L1159.9 1088.8 L1157.8 1090.3 L1155.6 1091.4 L1153.1 1092.2 L1151.3 1093.9 L1149.4 1096.2 L1146.7 1096.0 L1144.1 1095.3 L1141.6 1095.6 L1139.1 1095.3 L1136.6 1094.9 L1134.1 1096.0 L1131.6 1096.0 L1129.0 1095.1 L1126.6 1095.7 L1124.1 1095.9 L1121.5 1095.7 L1119.1 1096.1 L1116.5 1096.2 L1114.0 1096.5 L1111.6 1096.9 L1109.1 1097.3 L1106.6 1098.0 L1104.2 1098.9 L1101.8 1099.2 L1099.4 1099.2 L1097.1 1100.1 L1095.1 1101.6 L1092.8 1102.7 L1090.2 1103.1 L1087.8 1104.0 L1085.6 1105.2 L1083.4 1106.3 L1081.1 1107.4 L1079.1 1109.1 L1077.1 1110.8 L1074.7 1111.4 L1072.2 1112.0 L1069.8 1112.9 L1067.5 1113.7 L1065.4 1114.9 L1063.0 1115.8 L1060.2 1116.0 L1058.2 1117.5 L1057.1 1120.5 L1055.5 1122.8 L1052.8 1123.2 L1050.0 1123.3"/>
<path d="M460.7 670.0 L470.0 685.0 L478.3 701.7 L483.3 721.7 L490.0 745.0 L495.0 768.3 L498.3 790.0"/>
</g>
<g fill="none" stroke="#000" stroke-width="1.6" stroke-linejoin="round" stroke-linecap="round">
<path d="M1221.0 171.7 L1220.3 175.1 L1219.2 178.5 L1218.0 181.7 L1216.0 184.7 L1215.1 188.1 L1216.1 191.6 L1217.0 195.0 L1217.2 198.6 L1216.2 202.0 L1215.4 205.5 L1214.6 208.9 L1214.1 212.4 L1214.3 216.0 L1214.7 219.5 L1215.6 222.9 L1216.1 226.4 L1216.3 230.0 L1217.2 233.4 L1217.6 236.9 L1217.1 240.5 L1216.7 243.9 L1217.0 247.5 L1216.8 250.9 L1217.5 254.2 L1218.6 257.6 L1220.0 260.9 L1221.9 264.0 L1224.4 266.6 L1226.6 269.3 L1228.8 272.1 L1231.2 274.8 L1232.8 278.0 L1234.0 281.4 L1235.7 284.5 L1238.0 287.2 L1240.4 289.8 L1243.3 292.0 L1245.9 294.4 L1248.1 297.2 L1250.4 299.9 L1252.7 302.5 L1255.1 305.1 L1257.2 308.0 L1258.9 311.1 L1261.3 313.8 L1263.0 316.8 L1265.0 319.6 L1267.6 322.0 L1270.1 324.5 L1272.9 326.6 L1276.1 328.1 L1279.2 329.9 L1282.1 331.8 L1285.0 333.9 L1288.2 335.4 L1291.5 336.7 L1294.6 338.4 L1298.0 339.4 L1301.6 340.0 L1304.9 341.2 L1307.9 343.2 L1310.9 345.1 L1314.2 346.5 L1317.5 347.8 L1320.6 349.4 L1323.5 351.5 L1326.6 353.3 L1330.1 354.3 L1333.8 354.3 L1337.2 355.1 L1340.3 357.0"/>
<path d="M780.7 267.7 L783.7 269.8 L787.2 270.6 L790.8 271.4 L794.4 271.0 L797.9 270.2 L801.5 269.9 L805.0 269.2 L808.4 268.2 L812.0 267.8 L815.5 267.2 L818.6 267.9 L818.3 269.5 L814.8 270.5 L811.2 271.1 L807.6 271.2 L804.1 271.1 L800.5 270.5 L796.9 270.4 L793.3 271.3 L789.8 271.6 L786.5 271.7 L783.1 270.3 L780.7 267.7"/>
<path d="M911.7 178.3 L916.7 173.3 L926.7 170.3"/>
<path d="M943.3 171.7 L951.7 176.7"/>
<path d="M321.7 945.0 L319.7 942.0 L318.4 938.8 L317.3 935.4 L316.0 932.2 L315.0 928.8 L314.3 925.4 L312.8 922.2 L313.5 919.0 L315.4 916.0 L317.3 913.1 L319.3 910.2 L321.5 907.4 L324.7 905.7 L328.0 904.5 L331.2 903.0 L334.2 901.1 L337.1 899.1 L339.9 897.1 L342.9 895.2 L346.4 894.7 L349.8 893.7 L353.1 891.9 L356.6 892.7 L359.9 894.0 L363.3 895.0 L366.6 896.1 L369.7 897.9 L372.7 899.8 L376.0 901.1 L379.5 901.8 L382.4 903.7 L385.1 905.9 L388.2 907.6 L391.6 908.9 L394.7 910.3 L398.0 911.5 L401.5 912.2 L405.1 912.4 L408.4 913.6 L411.5 915.3 L415.0 916.2 L418.3 917.2 L421.5 917.6 L424.8 916.6 L428.1 915.4 L431.5 914.4 L435.0 913.8 L438.5 913.6 L442.0 913.2 L445.6 913.1 L447.7 916.4 L448.1 918.7 L445.9 921.2 L443.6 924.2 L439.9 924.8 L436.3 924.9 L432.9 925.3 L429.4 925.8 L425.9 926.5 L422.4 926.5 L419.2 925.1 L415.9 924.0 L412.4 923.2 L409.3 921.6 L406.0 920.3 L402.5 919.6 L399.2 918.5 L396.2 917.0 L393.1 915.5 L389.9 914.0 L386.9 912.1 L383.9 910.3 L380.5 909.3 L377.2 908.3 L373.9 907.0 L370.7 905.4 L367.3 904.6 L363.9 904.1 L360.4 903.5 L357.0 903.9 L353.8 905.3 L350.5 906.6 L347.4 908.2 L344.8 910.4 L342.3 912.9 L340.0 915.6 L337.4 917.9 L335.1 920.6 L333.1 923.5 L330.8 926.1 L328.6 928.9 L327.1 932.1 L326.0 935.4 L325.0 938.8 L323.6 942.0 L321.7 945.0"/>
<path d="M320.0 946.7 L325.0 948.3 L324.0 953.3 L320.7 951.7 L320.0 946.7"/>
<path d="M480.0 925.0 L483.6 924.8 L487.0 924.8 L489.8 927.1 L493.0 929.2 L492.9 932.5 L492.6 935.2 L496.1 936.3 L499.5 937.2 L502.4 939.1 L505.4 941.2 L506.9 944.5 L507.3 948.1 L508.5 951.6 L508.6 955.3 L507.5 959.2 L504.6 958.9 L501.5 957.1 L498.6 955.1 L496.3 952.2 L494.1 949.1 L493.6 945.3 L493.3 941.7 L491.8 938.7 L489.4 936.0 L486.7 933.5 L484.5 930.6 L482.5 927.6 L480.0 925.0"/>
<path d="M543.3 885.0 L546.8 885.5 L550.3 886.3 L553.6 887.6 L556.8 888.9 L559.9 890.6 L562.9 892.5 L565.8 894.5 L568.9 896.2 L572.1 897.5 L575.3 899.8 L573.2 902.8 L571.0 905.9 L567.8 904.3 L564.9 902.2 L561.8 900.6 L558.6 899.1 L555.5 897.4 L552.6 895.5 L549.6 893.5 L547.1 890.9 L544.5 888.6 L543.3 885.0"/>
<path d="M345.0 1040.0 L348.5 1039.6 L352.1 1039.7 L355.5 1039.1 L358.9 1038.4 L362.4 1038.4 L366.0 1038.1 L369.5 1038.0 L373.0 1038.8 L376.3 1040.1 L379.8 1040.8 L383.3 1041.0 L386.9 1040.9 L390.4 1040.9 L393.9 1041.2 L395.0 1042.5 L391.9 1044.2 L391.1 1045.7 L391.4 1046.7 L388.7 1048.1 L385.6 1049.8 L382.4 1051.0 L379.2 1052.2 L375.9 1053.3 L372.4 1053.8 L369.0 1053.3 L365.5 1052.6 L362.3 1051.3 L359.2 1049.9 L356.0 1048.5 L353.2 1046.5 L350.6 1044.3 L347.4 1042.5 L345.0 1040.0"/>
<path d="M378.3 998.3 L382.0 997.9 L385.3 997.8 L388.7 999.2 L392.0 1001.1 L395.6 1002.2 L399.2 1002.9 L400.7 1004.3 L398.1 1006.8 L394.3 1006.1 L390.7 1005.2 L387.1 1003.9 L383.6 1002.6 L380.2 1001.5 L378.3 998.3"/>
<path d="M175.0 1069.0 L188.3 1067.7 L186.7 1071.0 L176.0 1070.7 L175.0 1069.0"/>
<path d="M591.7 1103.3 L594.1 1100.7 L596.6 1098.2 L598.3 1095.0 L601.6 1096.4 L604.6 1098.3 L607.6 1100.3 L609.1 1103.4 L609.4 1107.1 L605.5 1106.3 L602.1 1105.1 L598.6 1104.6 L595.1 1104.3 L591.7 1103.3"/>
<path d="M586.7 975.7 L600.0 970.0 L598.3 973.3 L587.3 977.0"/>
<path d="M626.0 928.3 L638.3 926.7 L633.3 936.7 L626.0 928.3"/>
<path d="M385.0 676.7 L393.3 675.7 L396.0 681.7 L391.7 687.3 L385.0 676.7"/>
<path d="M266.7 745.0 L269.2 742.3 L271.7 739.6 L274.3 737.0 L278.2 736.6 L281.9 737.3 L284.7 739.0 L287.2 739.8 L284.6 740.3 L281.3 742.4 L278.7 744.3 L277.3 747.5 L275.5 749.6 L271.9 749.3 L268.1 748.6 L266.7 745.0"/>
<path d="M201.7 681.7 L206.0 671.7"/>
<path d="M175.0 720.0 L181.7 708.3"/>
<path d="M316.0 1052.3 L315.5 1053.9 L314.2 1054.9 L312.5 1054.9 L311.2 1053.9 L310.7 1052.3 L311.2 1050.8 L312.5 1049.8 L314.2 1049.8 L315.5 1050.8 L316.0 1052.3"/>
<path d="M309.7 1091.7 L309.1 1092.6 L307.6 1093.3 L305.7 1093.3 L304.2 1092.6 L303.7 1091.7 L304.2 1090.7 L305.7 1090.1 L307.6 1090.1 L309.1 1090.7 L309.7 1091.7"/>
<path d="M249.3 1132.3 L248.8 1133.9 L247.5 1134.9 L245.8 1134.9 L244.5 1133.9 L244.0 1132.3 L244.5 1130.8 L245.8 1129.8 L247.5 1129.8 L248.8 1130.8 L249.3 1132.3"/>
<path d="M480.7 994.0 L479.9 996.4 L477.9 997.8 L475.4 997.8 L473.4 996.4 L472.7 994.0 L473.4 991.6 L475.4 990.2 L477.9 990.2 L479.9 991.6 L480.7 994.0"/>
<path d="M517.3 985.7 L516.9 987.0 L515.7 987.9 L514.3 987.9 L513.1 987.0 L512.7 985.7 L513.1 984.3 L514.3 983.4 L515.7 983.4 L516.9 984.3 L517.3 985.7"/>
<path d="M524.0 992.3 L523.1 994.3 L520.8 995.5 L517.9 995.5 L515.6 994.3 L514.7 992.3 L515.6 990.4 L517.9 989.2 L520.8 989.2 L523.1 990.4 L524.0 992.3"/>
<path d="M611.7 877.7 L610.7 879.2 L608.2 880.2 L605.1 880.2 L602.6 879.2 L601.7 877.7 L602.6 876.1 L605.1 875.1 L608.2 875.1 L610.7 876.1 L611.7 877.7"/>
<path d="M635.3 941.0 L635.0 942.2 L634.0 942.9 L632.7 942.9 L631.7 942.2 L631.3 941.0 L631.7 939.8 L632.7 939.1 L634.0 939.1 L635.0 939.8 L635.3 941.0"/>
<path d="M514.0 720.0 L513.2 722.7 L511.2 724.4 L508.8 724.4 L506.8 722.7 L506.0 720.0 L506.8 717.3 L508.8 715.6 L511.2 715.6 L513.2 717.3 L514.0 720.0"/>
<path d="M512.7 730.0 L512.3 731.0 L511.5 731.6 L510.5 731.6 L509.7 731.0 L509.3 730.0 L509.7 729.0 L510.5 728.4 L511.5 728.4 L512.3 729.0 L512.7 730.0"/>
<path d="M483.3 702.7 L483.0 703.6 L482.2 704.3 L481.2 704.3 L480.3 703.6 L480.0 702.7 L480.3 701.7 L481.2 701.1 L482.2 701.1 L483.0 701.7 L483.3 702.7"/>
<path d="M404.7 678.3 L404.3 679.5 L403.3 680.2 L402.0 680.2 L401.0 679.5 L400.7 678.3 L401.0 677.2 L402.0 676.4 L403.3 676.4 L404.3 677.2 L404.7 678.3"/>
<path d="M295.7 746.7 L295.3 747.6 L294.5 748.3 L293.5 748.3 L292.7 747.6 L292.3 746.7 L292.7 745.7 L293.5 745.1 L294.5 745.1 L295.3 745.7 L295.7 746.7"/>
<path d="M399.3 798.3 L398.8 799.1 L397.5 799.6 L395.8 799.6 L394.5 799.1 L394.0 798.3 L394.5 797.5 L395.8 797.1 L397.5 797.1 L398.8 797.5 L399.3 798.3"/>
<path d="M163.3 865.0 L163.0 866.6 L162.2 867.5 L161.2 867.5 L160.3 866.6 L160.0 865.0 L160.3 863.4 L161.2 862.5 L162.2 862.5 L163.0 863.4 L163.3 865.0"/>
<path d="M449.3 254.3 L449.0 255.3 L448.2 255.9 L447.2 255.9 L446.3 255.3 L446.0 254.3 L446.3 253.4 L447.2 252.7 L448.2 252.7 L449.0 253.4 L449.3 254.3"/>
<path d="M392.3 351.0 L392.0 352.0 L391.2 352.6 L390.2 352.6 L389.3 352.0 L389.0 351.0 L389.3 350.0 L390.2 349.4 L391.2 349.4 L392.0 350.0 L392.3 351.0"/>
<path d="M395.3 365.0 L395.0 366.2 L394.0 366.9 L392.7 366.9 L391.7 366.2 L391.3 365.0 L391.7 363.8 L392.7 363.1 L394.0 363.1 L395.0 363.8 L395.3 365.0"/>
<path d="M403.7 391.7 L403.3 392.8 L402.3 393.6 L401.0 393.6 L400.0 392.8 L399.7 391.7 L400.0 390.5 L401.0 389.8 L402.3 389.8 L403.3 390.5 L403.7 391.7"/>
<path d="M341.7 434.3 L350.0 441.7"/>
<path d="M625.0 375.0 L631.7 376.3"/>
<path d="M584.3 461.7 L584.0 462.6 L583.2 463.3 L582.2 463.3 L581.3 462.6 L581.0 461.7 L581.3 460.7 L582.2 460.1 L583.2 460.1 L584.0 460.7 L584.3 461.7"/>
<path d="M497.3 421.0 L497.1 421.8 L496.4 422.3 L495.6 422.3 L494.9 421.8 L494.7 421.0 L494.9 420.2 L495.6 419.7 L496.4 419.7 L497.1 420.2 L497.3 421.0"/>
<path d="M415.0 430.0 L421.7 431.7"/>
<path d="M413.3 436.7 L420.7 439.0"/>
<path d="M398.3 533.3 L397.7 534.3 L396.0 534.9 L394.0 534.9 L392.3 534.3 L391.7 533.3 L392.3 532.4 L394.0 531.7 L396.0 531.7 L397.7 532.4 L398.3 533.3"/>
<path d="M403.3 583.3 L402.7 584.7 L401.0 585.6 L399.0 585.6 L397.3 584.7 L396.7 583.3 L397.3 582.0 L399.0 581.1 L401.0 581.1 L402.7 582.0 L403.3 583.3"/>
<path d="M322.7 569.0 L322.2 570.0 L320.8 570.6 L319.2 570.6 L317.8 570.0 L317.3 569.0 L317.8 568.0 L319.2 567.4 L320.8 567.4 L322.2 568.0 L322.7 569.0"/>
<path d="M341.7 635.0 L341.2 636.4 L340.1 637.2 L338.6 637.2 L337.4 636.4 L337.0 635.0 L337.4 633.6 L338.6 632.8 L340.1 632.8 L341.2 633.6 L341.7 635.0"/>
<path d="M351.7 646.0 L351.3 647.6 L350.5 648.5 L349.5 648.5 L348.7 647.6 L348.3 646.0 L348.7 644.4 L349.5 643.5 L350.5 643.5 L351.3 644.4 L351.7 646.0"/>
<path d="M218.3 646.7 L233.3 638.3 L231.7 642.3 L219.3 648.3 L218.3 646.7"/>
<path d="M544.0 643.3 L543.2 644.9 L541.2 645.9 L538.8 645.9 L536.8 644.9 L536.0 643.3 L536.8 641.8 L538.8 640.8 L541.2 640.8 L543.2 641.8 L544.0 643.3"/>
<path d="M511.0 653.3 L510.5 654.3 L509.2 654.9 L507.5 654.9 L506.2 654.3 L505.7 653.3 L506.2 652.4 L507.5 651.7 L509.2 651.7 L510.5 652.4 L511.0 653.3"/>
<path d="M471.7 651.7 L474.8 649.7 L477.8 647.5 L481.1 647.5 L484.8 648.5 L488.5 648.2 L491.7 645.9 L494.7 646.1 L496.0 649.6 L493.6 651.7 L491.2 654.9 L493.1 658.4 L494.7 661.5 L491.4 662.9 L488.3 665.0"/>
<path d="M471.7 651.7 L476.7 658.3 L483.3 661.7 L486.7 665.0"/>
<path d="M996.7 803.3 L999.6 801.2 L1002.8 799.7 L1006.5 799.6 L1010.0 799.4 L1013.5 798.6 L1016.6 796.9 L1019.8 795.2 L1023.0 794.1 L1026.3 792.8 L1029.6 791.5 L1032.6 789.5 L1035.2 787.2 L1038.1 785.1 L1041.0 783.1 L1043.7 780.7 L1045.3 777.3 L1046.7 774.0 L1048.6 771.1 L1050.9 768.3 L1052.8 765.3 L1053.8 761.9 L1055.1 758.6 L1057.6 756.1 L1059.1 752.9 L1060.4 749.4 L1062.3 746.5 L1064.5 743.7 L1066.8 741.0 L1069.3 738.5 L1072.1 736.3 L1074.7 733.8 L1076.7 730.9 L1079.0 728.3 L1081.2 725.5 L1082.6 722.3 L1084.2 719.1 L1085.8 716.0 L1087.5 712.9 L1088.9 709.7 L1090.1 706.3 L1092.1 703.3 L1093.5 699.9 L1093.7 696.3 L1094.2 692.8 L1095.0 689.3 L1095.4 685.8 L1095.8 682.3 L1096.4 678.8 L1097.4 675.5 L1098.3 672.2 L1098.9 668.6 L1101.0 665.9 L1104.4 664.5 L1106.2 666.9 L1107.4 670.2 L1106.4 673.7 L1105.9 677.2 L1106.1 680.7 L1106.5 684.1 L1106.0 687.6 L1105.6 691.2 L1105.7 694.7 L1105.7 698.2 L1106.1 701.8 L1106.0 705.3 L1105.1 708.8 L1103.6 712.0 L1102.5 715.4 L1101.8 718.9 L1100.1 722.1 L1098.1 725.0 L1096.2 728.0 L1094.5 731.0 L1093.0 734.2 L1092.3 737.2 L1094.6 739.8 L1095.9 742.2 L1093.7 744.7 L1091.4 747.4 L1089.1 750.1 L1086.8 752.8 L1084.6 755.5 L1082.2 758.1 L1079.5 760.4 L1076.9 762.8 L1074.3 765.1 L1071.7 767.6 L1069.1 769.9 L1066.6 772.4 L1064.2 774.9 L1061.1 776.9 L1058.3 779.2 L1056.4 782.2 L1054.8 785.4 L1052.3 788.0 L1049.2 789.8 L1046.6 792.2 L1044.3 794.8 L1041.8 797.3 L1039.2 799.7 L1036.1 801.4 L1032.8 802.3 L1029.6 804.0 L1026.4 805.3 L1023.1 806.7 L1019.8 807.9 L1016.2 808.2 L1012.7 807.9 L1009.2 808.6 L1005.6 808.4 L1002.3 807.2 L998.6 806.5 L996.7 803.3"/>
<path d="M1058.3 755.0 L1066.7 746.7 L1074.0 743.3 L1068.3 751.7 L1060.0 756.7 L1058.3 755.0"/>
<path d="M926.7 807.7 L929.9 808.8 L932.0 810.8 L933.0 814.2 L933.8 817.7 L933.7 821.2 L933.4 824.7 L933.3 828.3 L931.7 831.5 L929.9 834.6 L928.8 838.0 L928.0 841.1 L925.1 842.3 L923.8 841.6 L924.0 838.3 L923.8 834.8 L923.8 831.3 L924.0 827.8 L924.2 824.3 L924.7 820.8 L924.1 817.4 L923.5 813.8 L924.6 810.5 L926.7 807.7"/>
<path d="M753.3 838.3 L756.2 836.0 L759.3 834.4 L762.8 833.5 L766.0 832.0 L768.4 830.8 L769.6 833.9 L771.0 837.2 L773.3 840.0 L775.6 842.9 L775.3 846.1 L772.2 848.2 L769.6 850.4 L766.6 852.4 L763.4 853.2 L759.8 852.8 L756.2 851.8 L754.4 848.5 L752.7 845.4 L753.0 841.9 L753.3 838.3"/>
<path d="M761.7 876.7 L765.4 876.5 L768.9 875.2 L772.5 875.2 L775.2 877.9 L778.2 880.1 L781.7 881.6 L780.4 885.3 L777.2 887.1 L773.5 885.5 L770.6 883.2 L767.6 881.0 L764.3 879.3 L761.7 876.7"/>
<path d="M739.3 918.3 L742.2 915.8 L743.6 912.5 L745.1 909.4 L748.0 908.5 L751.4 907.6 L754.6 907.6 L757.4 909.6 L756.6 912.2 L754.6 914.9 L751.1 915.8 L748.1 917.3 L746.6 920.5 L744.5 923.3 L741.2 923.9 L739.7 921.9 L739.3 918.3"/>
<path d="M763.3 914.3 L766.9 913.5 L770.5 912.3 L770.7 915.8 L770.3 919.4 L770.9 922.8 L772.6 926.0 L774.2 929.2 L772.4 931.0 L769.8 931.5 L768.3 928.1 L766.9 924.7 L765.5 921.4 L764.2 918.0 L763.3 914.3"/>
<path d="M893.3 1001.7 L901.7 999.0 L903.3 1005.0 L896.7 1004.3 L893.3 1001.7"/>
<path d="M728.7 845.7 L728.1 847.0 L726.6 847.9 L724.7 847.9 L723.2 847.0 L722.7 845.7 L723.2 844.3 L724.7 843.4 L726.6 843.4 L728.1 844.3 L728.7 845.7"/>
<path d="M716.3 865.7 L715.8 867.4 L714.3 868.5 L712.4 868.5 L710.9 867.4 L710.3 865.7 L710.9 863.9 L712.4 862.8 L714.3 862.8 L715.8 863.9 L716.3 865.7"/>
<path d="M776.0 889.3 L775.6 890.5 L774.6 891.2 L773.4 891.2 L772.4 890.5 L772.0 889.3 L772.4 888.2 L773.4 887.4 L774.6 887.4 L775.6 888.2 L776.0 889.3"/>
<path d="M863.3 896.0 L862.6 897.0 L860.6 897.6 L858.1 897.6 L856.1 897.0 L855.3 896.0 L856.1 895.0 L858.1 894.4 L860.6 894.4 L862.6 895.0 L863.3 896.0"/>
<path d="M900.7 883.3 L900.0 884.1 L898.4 884.6 L896.3 884.6 L894.6 884.1 L894.0 883.3 L894.6 882.5 L896.3 882.1 L898.4 882.1 L900.0 882.5 L900.7 883.3"/>
<path d="M931.7 1019.3 L939.3 1020.3"/>
<path d="M748.0 1058.3 L747.6 1059.5 L746.6 1060.2 L745.4 1060.2 L744.4 1059.5 L744.0 1058.3 L744.4 1057.2 L745.4 1056.4 L746.6 1056.4 L747.6 1057.2 L748.0 1058.3"/>
<path d="M1054.3 816.3 L1054.0 818.3 L1053.2 819.5 L1052.2 819.5 L1051.3 818.3 L1051.0 816.3 L1051.3 814.4 L1052.2 813.2 L1053.2 813.2 L1054.0 814.4 L1054.3 816.3"/>
<path d="M1298.3 846.7 L1299.6 850.0 L1301.1 853.2 L1303.3 854.3 L1306.4 852.8 L1308.8 854.5 L1307.4 855.9 L1304.7 858.1 L1303.7 861.5 L1301.9 864.7 L1298.9 867.0 L1296.5 869.6 L1294.4 872.8 L1292.0 871.6 L1290.7 868.4 L1288.5 865.5 L1289.7 862.3 L1291.2 859.1 L1292.9 855.9 L1294.6 852.8 L1296.4 849.7 L1298.3 846.7"/>
<path d="M1308.3 893.3 L1313.3 890.0 L1315.0 896.7 L1310.7 901.7 L1307.3 898.3 L1308.3 893.3"/>
<path d="M1325.7 970.7 L1325.1 972.4 L1323.6 973.5 L1321.7 973.5 L1320.2 972.4 L1319.7 970.7 L1320.2 968.9 L1321.7 967.8 L1323.6 967.8 L1325.1 968.9 L1325.7 970.7"/>
<path d="M1319.7 1045.0 L1319.1 1046.8 L1317.6 1047.9 L1315.7 1047.9 L1314.2 1046.8 L1313.7 1045.0 L1314.2 1043.2 L1315.7 1042.1 L1317.6 1042.1 L1319.1 1043.2 L1319.7 1045.0"/>
<path d="M1251.7 1136.0 L1251.2 1136.8 L1250.1 1137.3 L1248.6 1137.3 L1247.4 1136.8 L1247.0 1136.0 L1247.4 1135.2 L1248.6 1134.7 L1250.1 1134.7 L1251.2 1135.2 L1251.7 1136.0"/>
<path d="M1343.3 1134.3 L1342.9 1135.1 L1341.7 1135.6 L1340.3 1135.6 L1339.1 1135.1 L1338.7 1134.3 L1339.1 1133.5 L1340.3 1133.1 L1341.7 1133.1 L1342.9 1133.5 L1343.3 1134.3"/>
<path d="M1169.0 675.0 L1168.7 676.0 L1167.8 676.6 L1166.8 676.6 L1166.0 676.0 L1165.7 675.0 L1166.0 674.0 L1166.8 673.4 L1167.8 673.4 L1168.7 674.0 L1169.0 675.0"/>
<path d="M1178.3 773.3 L1182.7 770.0"/>
<path d="M508.9 172.2 L511.6 174.5 L514.7 176.4 L516.2 179.7 L517.8 182.8 L519.5 185.9 L520.5 189.3 L520.9 192.9 L521.2 196.4 L521.5 199.9 L521.0 203.1 L519.9 206.6 L521.4 209.3 L525.0 207.5 L527.3 204.7 L530.0 202.4 L533.3 200.8 L536.1 198.7 L538.3 195.9 L540.7 193.3 L543.7 191.2 L541.4 189.7 L539.2 187.1 L538.0 184.0 L537.0 180.7 L537.4 177.3 L539.2 174.3 L541.9 172.2"/>
<path d="M553.3 173.7 L553.0 174.4 L552.1 174.8 L551.1 174.8 L550.3 174.4 L550.0 173.7 L550.3 172.9 L551.1 172.5 L552.1 172.5 L553.0 172.9 L553.3 173.7"/>
<path d="M597.7 172.2 L596.6 175.6 L595.5 179.0 L594.2 182.3 L593.2 185.9 L591.0 188.8 L588.1 191.1 L586.3 194.2 L584.9 197.5 L583.8 201.0 L582.6 204.5 L583.4 208.2 L584.7 211.5 L585.6 214.9 L586.7 218.3 L588.0 221.5 L585.6 223.7 L582.7 225.8 L580.1 228.3 L577.6 230.8 L575.9 233.8 L573.9 236.7 L571.3 238.8 L568.9 241.1 L566.2 243.4 L563.0 245.1 L559.8 246.4 L556.9 248.5 L554.0 250.6 L550.9 252.3 L547.6 253.7 L544.4 255.3 L540.9 256.1 L537.3 256.7 L534.0 258.1 L530.6 259.2 L527.1 259.6 L523.5 260.0 L520.3 259.0 L517.6 256.6 L514.5 254.8 L511.0 253.8"/>
<path d="M613.2 172.2 L610.9 174.9 L608.4 177.3 L605.8 179.7 L604.7 183.1 L604.0 186.5 L603.2 189.9 L601.9 193.2 L600.3 196.4 L599.4 199.8 L599.4 203.6 L603.0 205.0 L606.2 206.4 L609.7 206.7 L613.2 207.0 L616.6 206.4 L620.1 205.7 L623.6 206.6 L626.4 208.7 L629.6 210.2 L632.2 212.7 L634.2 215.6 L636.4 218.3 L638.6 221.0 L640.3 224.1 L642.0 227.1 L641.1 230.5 L640.7 234.0 L641.0 237.3 L641.0 240.9 L640.0 244.0 L636.6 245.2 L633.3 246.6 L630.2 248.3 L627.6 250.8 L625.1 253.3 L624.2 256.3 L626.3 258.2 L628.5 261.0 L631.8 262.2 L635.1 263.3 L638.2 265.0 L640.7 266.5 L638.8 269.1 L635.6 267.6 L632.3 266.2 L629.3 264.4 L626.5 262.1 L624.3 259.2 L621.8 256.1 L623.1 252.5 L625.1 249.6 L627.0 246.7 L628.6 243.6 L630.1 240.4 L631.8 237.3 L632.3 233.8 L632.4 230.3 L631.1 227.0 L629.6 223.8 L629.1 220.3 L627.3 217.6 L623.9 216.1 L620.4 215.5 L616.8 216.2 L613.3 216.4 L609.7 216.3 L606.3 217.1 L603.0 218.5 L600.3 220.9 L597.6 223.3 L596.2 226.6 L595.8 230.0 L596.4 233.5 L596.9 237.0 L596.1 240.4 L595.0 243.8 L593.5 246.9 L591.6 249.8 L589.0 252.2 L585.8 253.8 L582.9 255.7 L579.7 257.3 L576.5 258.8 L573.7 260.9 L570.9 263.0 L567.8 264.7 L564.6 266.2 L561.5 267.8 L558.2 268.9 L554.8 269.8 L551.6 271.4 L549.4 274.1 L547.4 276.9 L544.5 279.1 L541.1 280.1 L538.7 281.6 L535.8 280.4 L533.0 278.2 L530.5 275.9 L527.7 274.0 L524.8 272.0 L522.0 269.8 L519.3 267.6 L516.2 266.0 L513.3 264.1 L510.8 261.7 L508.2 259.2 L507.0 255.3 L511.0 253.8"/>
<path d="M550.2 223.8 L553.3 222.8 L555.4 225.9 L559.5 226.9 L559.5 230.0 L555.4 231.1 L552.3 229.0 L550.2 223.8"/>
<path d="M514.1 253.8 L516.1 262.0 L513.0 264.1 L511.0 257.9"/>
<path d="M528.7 264.5 L528.1 266.0 L526.4 266.9 L524.4 266.9 L522.7 266.0 L522.1 264.5 L522.7 263.0 L524.4 262.1 L526.4 262.1 L528.1 263.0 L528.7 264.5"/>
<path d="M537.2 262.0 L536.7 263.1 L535.5 263.8 L533.9 263.8 L532.7 263.1 L532.2 262.0 L532.7 260.9 L533.9 260.3 L535.5 260.3 L536.7 260.9 L537.2 262.0"/>
<path d="M716.4 172.2 L716.0 175.7 L715.2 179.1 L713.8 182.3 L712.3 185.2 L712.7 188.0 L714.5 188.6 L716.9 186.0 L719.3 183.5 L721.6 180.8 L723.4 177.5 L724.6 180.4 L724.4 183.9 L722.4 186.8 L721.0 190.1 L721.0 193.6 L722.9 194.6 L725.2 194.1 L727.3 191.9 L728.4 189.0 L729.2 185.7 L729.4 182.3 L729.0 178.9 L728.9 175.5 L727.7 172.2"/>
<path d="M767.0 214.5 L771.1 212.1 L775.2 213.5 L772.1 217.6 L771.1 224.9 L773.1 233.1"/>
<path d="M768.0 218.7 L769.0 226.9 L770.0 234.2"/>
<path d="M715.3 199.1 L717.3 202.1 L719.8 204.9 L721.4 208.2 L723.0 211.6 L724.8 214.7 L727.2 217.4 L729.3 219.1 L732.8 218.5 L736.2 218.3 L739.7 218.2 L742.7 220.2 L745.1 222.9 L746.4 226.3 L746.4 229.7 L745.1 233.1"/>
</g>
<g fill="none" stroke="#000" stroke-width="1.9" stroke-linejoin="round" stroke-linecap="round">
<path d="M513.3 254.3 L510.7 252.2 L507.8 251.2 L505.1 249.4 L501.9 249.8 L498.6 251.0 L495.6 251.2 L492.9 252.6 L490.3 254.2 L488.2 252.2 L486.4 249.8 L484.4 247.1 L481.4 245.9 L478.3 245.2 L475.3 243.9 L472.2 244.8 L469.6 246.4 L467.5 248.7 L465.2 250.6 L462.7 252.9 L460.6 254.0 L457.8 254.3 L456.0 256.8 L455.0 259.6 L453.3 261.7 L451.8 264.4 L449.7 266.5 L446.6 267.6 L443.5 268.8 L441.3 270.8 L439.9 273.7 L438.4 276.5 L437.8 279.8 L436.7 282.6 L434.5 284.1 L433.1 286.9 L432.2 289.9 L432.1 292.5 L432.4 295.6 L432.1 298.8 L431.8 301.7 L431.9 304.7 L430.1 307.4 L427.6 309.7 L426.0 312.1 L424.8 315.2 L422.6 317.1 L420.7 319.3 L419.7 322.2 L418.1 325.0 L415.4 326.7 L412.6 328.1 L410.3 330.2 L408.1 332.3 L405.0 333.1 L402.0 334.0 L399.4 335.6 L397.5 337.9 L396.4 340.7 L396.1 343.2 L396.6 346.0 L397.2 349.0 L398.4 351.8 L399.0 354.8 L398.5 357.9 L399.2 360.7 L401.0 362.7 L402.3 365.4 L404.1 367.9 L405.4 370.7 L406.0 373.7 L407.2 376.5 L408.9 379.0 L410.6 381.6 L411.1 384.6 L411.9 387.5 L412.8 390.4 L413.3 393.2 L413.7 396.2 L414.8 399.1 L415.7 401.9 L415.6 405.1 L416.9 407.9 L418.5 410.5 L417.8 414.1 L417.8 417.4 L421.7 419.0"/>
<path d="M421.7 419.0 L424.7 419.2 L427.8 418.3 L430.8 419.0 L433.8 419.3 L436.8 419.6 L439.6 421.1 L442.6 421.6 L445.6 421.7 L448.2 423.5 L451.2 424.2 L454.5 423.8 L457.3 424.7 L459.9 426.6 L462.8 427.4 L465.9 427.1 L469.0 427.1 L471.9 428.2 L474.5 429.9 L477.3 431.1 L480.2 431.9 L482.6 434.1 L485.2 435.8 L488.1 436.7 L491.0 437.4 L494.2 437.7 L497.2 438.3 L500.0 439.3 L502.6 440.9 L505.3 442.5 L508.3 443.1 L511.2 444.0 L513.9 445.6 L516.5 447.1 L518.8 449.1 L521.3 450.9 L523.8 452.5 L525.6 455.3 L527.3 458.2 L530.1 459.4 L533.5 459.8 L536.3 461.3 L537.8 464.0 L538.9 467.2 L541.5 468.9 L544.3 470.3 L545.5 473.4 L546.8 476.3 L549.5 478.0 L552.0 479.7 L554.0 481.8 L556.5 483.8 L558.6 486.0 L559.9 488.8 L560.8 491.8 L561.2 494.8 L561.2 497.8 L562.0 500.7 L562.9 503.6 L564.0 506.4 L565.3 509.2 L566.4 512.2 L568.1 514.6 L570.4 516.7 L572.2 519.1 L574.4 521.3 L576.1 524.0 L577.6 526.7 L580.3 528.1 L584.4 528.2 L587.4 529.4 L588.8 532.4 L589.6 535.7 L590.8 538.5 L593.6 540.3 L596.6 541.8 L597.5 544.9 L598.0 548.2 L599.5 550.8 L601.3 553.2 L603.6 555.3 L605.7 557.5 L607.3 560.1 L609.0 562.6 L611.0 564.8 L613.0 567.1 L614.7 569.6 L615.8 572.4 L616.7 575.4 L617.4 578.4 L618.7 581.1 L621.1 583.3 L623.4 585.5 L624.6 588.3 L625.2 591.3 L626.4 594.1 L627.9 596.7 L629.5 599.2 L631.1 601.7 L632.6 604.3 L632.7 607.1 L631.9 610.0 L631.6 613.0 L632.1 616.0 L632.0 619.1 L630.5 621.8 L628.6 623.7 L626.3 625.9 L623.8 627.1 L622.2 629.5 L620.0 631.7"/>
<path d="M421.7 419.0 L424.0 421.3 L425.3 424.1 L425.8 427.3 L427.4 430.1 L427.7 433.3 L427.1 436.5 L426.9 439.8 L426.2 442.8 L424.3 445.4 L421.2 447.4 L418.9 449.9 L419.4 453.4 L420.3 456.8 L418.9 459.4 L415.8 460.3 L412.7 460.6 L409.6 461.1 L407.0 462.8 L404.2 464.3 L401.5 465.4 L398.9 466.7 L396.7 468.7 L395.1 471.4 L393.2 473.7 L391.2 476.1 L389.6 478.8 L387.9 481.5 L385.7 483.6 L382.8 485.1 L379.5 486.2 L377.3 488.3 L376.5 491.8 L374.1 493.7 L370.6 494.7 L368.1 496.6 L367.3 500.0"/>
<path d="M745.7 231.7 L744.1 234.5 L745.1 237.7 L745.1 241.0 L743.6 243.5 L742.5 245.9 L743.7 248.6 L744.9 251.4 L745.3 254.5 L745.2 257.6 L744.5 260.6 L742.2 263.1 L740.0 265.6 L739.1 268.5 L739.4 271.9 L741.2 274.7 L742.6 277.6 L742.6 280.9 L740.7 283.7 L740.5 286.8 L740.2 289.5 L738.8 292.3 L738.1 295.5 L739.6 298.2 L740.3 301.4 L739.3 304.3 L737.5 306.9 L736.4 309.7 L734.9 312.4 L732.4 314.2 L728.9 316.3 L731.3 319.2 L735.1 319.1 L738.4 320.0 L740.8 322.5 L742.9 325.2 L743.3 327.8 L743.8 330.6 L745.4 333.4 L748.4 334.7 L749.0 337.9 L747.5 340.7 L747.6 343.1 L751.1 344.5 L750.1 348.4 L749.1 351.3 L748.3 354.2 L747.8 357.3 L747.3 360.5 L744.9 362.8 L741.9 364.8 L740.3 367.3 L738.8 369.9 L737.2 372.5 L736.6 375.5 L736.4 378.8 L735.9 381.9 L735.8 385.0 L735.3 388.1 L733.6 390.6 L730.6 392.8 L729.0 395.5 L728.5 398.5 L727.7 401.4 L727.6 404.5 L726.9 407.4 L726.0 410.3 L725.3 413.3 L722.9 415.9 L723.1 419.2 L725.7 421.3 L727.3 423.9 L728.5 426.8 L729.9 429.6 L731.9 431.9 L734.0 433.8 L735.2 436.4 L737.3 438.8 L738.8 441.5 L739.7 444.4 L741.5 446.8 L742.6 449.7 L744.0 452.3"/>
<path d="M749.3 345.0 L751.8 343.3 L754.1 341.3 L756.8 340.0 L759.9 340.5 L763.1 340.6 L765.7 342.7 L766.7 346.1 L768.8 348.2 L771.2 350.2 L772.1 353.1 L772.7 356.1 L773.6 358.9 L775.0 361.6 L775.7 364.6 L775.5 367.6 L774.7 370.7 L774.8 374.0 L776.4 376.6 L779.2 378.5 L781.5 380.5 L782.9 383.1 L784.8 385.5 L786.4 388.0 L788.3 390.9 L790.8 392.6 L794.0 393.1 L797.0 393.7 L800.0 394.3"/>
<path d="M810.0 290.0 L816.7 281.7 L823.3 276.7 L830.0 270.0 L838.3 271.0"/>
<path d="M838.3 242.3 L843.3 251.7 L848.3 253.3"/>
<path d="M825.0 301.0 L821.7 308.3 L819.3 312.3"/>
<path d="M835.0 311.0 L833.3 321.7 L838.3 333.3"/>
<path d="M847.7 316.7 L851.7 327.3"/>
<path d="M786.7 236.7 L796.7 233.3 L806.7 235.0 L813.3 237.7"/>
<path d="M793.3 239.0 L801.7 242.3"/>
<path d="M805.0 248.3 L816.7 246.7"/>
<path d="M786.7 253.3 L796.7 255.7 L813.3 254.3"/>
<path d="M793.3 258.3 L803.3 257.7"/>
<path d="M1150.0 526.7 L1140.0 535.0 L1135.0 543.3 L1133.3 548.3"/>
<path d="M1220.0 170.3 L1221.0 173.6 L1220.1 176.5 L1219.2 179.5 L1218.3 182.5 L1216.7 185.2 L1214.9 187.1 L1214.8 189.9 L1215.3 192.9 L1215.9 195.8 L1215.9 198.9 L1215.1 201.9 L1215.2 205.0 L1214.9 208.0 L1212.8 210.6 L1211.5 213.7 L1213.4 216.5 L1215.6 219.3 L1214.6 222.5 L1212.9 225.7 L1214.1 228.6 L1215.4 231.5 L1214.9 234.6 L1214.3 237.7 L1214.9 240.5 L1215.4 243.3 L1215.7 246.3 L1215.7 249.4 L1215.5 252.2 L1217.2 254.7 L1219.9 256.8 L1220.9 259.7 L1219.6 263.6 L1220.3 266.8 L1222.4 269.0 L1224.5 271.2 L1227.0 273.1 L1229.8 274.9 L1231.8 277.3 L1232.9 280.1 L1234.2 282.8 L1236.0 285.2 L1237.5 287.6 L1238.3 290.8 L1239.4 293.9 L1240.6 296.8 L1242.9 298.8 L1246.1 300.0 L1248.4 302.0 L1250.4 304.2 L1252.0 306.9 L1252.8 309.9 L1254.2 312.1 L1256.5 314.3 L1258.2 316.8 L1260.1 319.2 L1262.8 321.0 L1265.5 322.4 L1267.5 324.8 L1269.4 327.2 L1272.3 328.3 L1275.2 329.3 L1277.7 330.9 L1280.0 332.9 L1282.0 335.6 L1285.2 336.0 L1288.9 335.0 L1291.4 336.8 L1293.6 339.5 L1296.4 340.5 L1299.2 341.4 L1302.0 342.7 L1305.0 343.3 L1307.8 344.3 L1310.3 346.1 L1312.9 347.5 L1315.7 348.8 L1318.1 350.6 L1320.7 352.2 L1323.4 353.6 L1326.1 354.9 L1329.3 355.0 L1332.3 355.5 L1334.8 357.5 L1337.8 358.1 L1340.9 357.2 L1343.8 357.1 L1346.8 358.5 L1349.8 358.0 L1352.4 355.9 L1355.3 355.2 L1358.4 354.9 L1361.5 355.3 L1364.6 356.5 L1367.6 356.6 L1370.7 355.6 L1373.8 355.6 L1377.0 356.0 L1379.9 355.2 L1382.6 353.2 L1385.3 351.8 L1388.3 351.1 L1391.3 350.3 L1394.1 349.6 L1396.8 348.6 L1399.6 347.5 L1402.4 346.0 L1404.9 344.1 L1407.5 342.6 L1409.9 340.8 L1412.3 339.0"/>
<path d="M1305.0 343.3 L1305.9 346.5 L1304.2 349.3 L1302.4 351.9 L1300.8 353.6 L1299.1 355.9 L1298.4 359.1 L1296.0 360.7 L1293.0 361.1 L1289.9 360.8 L1287.0 359.3 L1284.0 360.1 L1280.9 362.2 L1278.1 362.2 L1275.1 362.5 L1272.3 363.6 L1269.2 363.9 L1267.4 366.4 L1265.9 369.2 L1263.3 371.2 L1260.1 371.8 L1256.8 371.7 L1254.0 372.8 L1251.6 375.0 L1249.0 376.5 L1246.2 377.7 L1243.6 379.2 L1240.8 380.4 L1238.1 381.7 L1235.0 382.5 L1232.1 383.6 L1230.0 385.9 L1227.7 388.0 L1226.0 390.4 L1225.8 392.1 L1223.8 390.9 L1220.5 391.1 L1218.0 393.4 L1216.0 396.4 L1213.3 398.5 L1209.7 397.2 L1206.7 397.7"/>
<path d="M1358.3 355.7 L1358.5 359.2 L1361.1 361.1 L1363.4 363.2 L1364.9 365.9 L1366.7 368.4 L1368.7 370.6 L1371.4 372.3 L1374.2 373.7 L1376.2 375.9 L1377.4 378.9 L1378.9 381.5 L1381.4 383.3 L1383.4 385.9 L1383.7 388.9 L1382.7 392.2 L1383.0 395.1 L1382.7 398.0 L1382.4 401.0 L1383.4 404.0 L1384.2 407.0 L1384.5 410.1 L1384.3 413.3 L1382.6 415.9 L1380.5 418.4 L1379.6 421.3 L1377.9 424.0 L1374.8 425.2 L1371.7 426.2 L1368.7 427.3 L1366.1 428.8 L1364.7 431.9 L1363.6 435.3 L1361.0 436.8 L1358.0 437.4 L1355.5 439.0 L1352.5 439.7 L1349.8 441.3 L1348.3 444.3 L1345.4 445.5 L1342.1 446.3 L1339.9 448.4 L1338.2 451.0 L1335.7 452.8 L1333.1 454.3 L1331.9 457.4 L1330.4 460.6 L1327.6 461.8 L1324.4 462.5 L1321.7 463.8 L1319.2 465.4 L1316.5 466.9 L1313.7 467.9 L1310.8 468.6 L1308.0 469.8 L1305.1 470.8 L1302.2 471.9 L1299.2 472.1 L1296.1 471.6 L1293.0 471.9 L1290.0 472.3 L1287.1 473.1 L1284.2 473.7 L1281.3 474.4 L1278.8 477.1 L1276.4 479.7 L1273.5 480.4 L1270.7 480.2 L1268.3 481.4 L1265.8 482.8 L1263.0 484.1 L1261.9 487.0 L1261.6 490.0 L1259.0 491.5 L1256.0 492.3 L1253.3 492.3 L1250.9 493.0 L1248.0 494.2 L1244.3 494.8 L1243.2 498.7 L1242.2 501.6 L1239.5 503.4 L1237.0 504.9 L1234.8 506.9 L1233.5 509.9 L1233.5 513.7 L1232.5 516.8 L1229.1 516.8 L1226.9 514.6 L1223.7 515.2 L1220.5 515.3 L1217.9 513.7 L1215.1 512.5 L1212.3 511.2 L1210.7 508.4 L1209.0 505.8 L1207.5 503.0 L1204.9 501.0 L1200.9 501.6 L1197.8 501.0 L1195.7 499.1 L1193.1 497.1 L1190.3 495.6 L1187.5 495.1 L1184.7 494.4 L1181.5 494.4 L1178.5 494.4 L1175.8 494.6 L1172.7 494.4 L1169.7 494.9 L1166.8 496.1 L1164.8 498.4 L1163.8 501.6 L1162.3 503.7 L1160.1 505.9 L1158.6 508.6 L1157.7 511.3 L1156.1 513.7 L1154.2 516.1 L1152.5 518.5 L1150.7 520.8 L1147.9 522.8 L1147.0 525.7 L1146.8 529.1 L1144.4 531.0 L1141.5 532.5 L1139.1 534.4 L1137.4 537.0 L1136.8 540.2 L1136.0 543.0 L1134.3 545.5 L1133.3 548.3"/>
<path d="M1263.3 487.7 L1270.0 488.3 L1273.3 495.0"/>
<path d="M970.0 658.3 L971.3 661.2 L974.2 662.9 L977.4 664.6 L978.3 667.7 L977.7 671.5 L978.9 674.2 L980.5 676.9 L980.4 680.0 L980.3 683.1 L981.1 686.1 L982.1 689.2 L982.0 692.4 L981.6 695.4 L980.6 698.3 L978.9 701.0 L978.2 704.1 L977.9 707.4 L978.7 710.3 L980.4 713.1 L983.3 715.4 L985.4 717.8 L984.1 721.5 L983.7 721.4 L981.0 721.7 L980.7 723.6 L980.5 726.7 L980.2 729.3 L979.9 732.0 L979.1 735.6 L977.6 736.4 L977.7 736.2 L980.2 739.0 L982.8 740.1 L986.4 739.1 L989.6 739.6 L992.3 741.7 L994.2 745.4 L990.3 745.9 L987.8 745.8 L987.2 747.6 L986.5 750.6 L985.9 753.6 L986.0 756.7"/>
<path d="M941.7 666.7 L950.0 665.0 L956.7 660.0 L965.0 658.3"/>
<path d="M950.0 670.0 L958.3 675.0 L963.3 681.7 L963.3 688.3 L960.0 695.0"/>
<path d="M932.7 688.3 L943.3 686.7"/>
<path d="M750.0 730.0 L749.2 727.0 L747.8 724.2 L746.8 721.2 L745.7 718.2 L745.7 715.1 L746.7 711.8 L745.2 709.2 L742.9 706.9 L742.4 703.7 L743.3 700.7 L744.7 698.1 L744.5 695.0 L743.6 691.9 L746.3 690.7 L749.6 690.8 L752.8 690.8 L755.5 689.4 L758.3 687.8 L761.0 686.1 L763.7 684.7 L766.9 684.3 L769.9 683.1 L771.9 680.6 L773.3 677.7"/>
<path d="M658.3 786.7 L663.3 787.7 L664.0 799.0"/>
<path d="M1008.3 783.3 L1013.3 791.7 L1016.7 794.3"/>
<path d="M550.0 696.7 L552.7 695.1 L555.1 693.2 L557.6 691.3 L559.6 689.1 L562.2 687.5 L565.1 686.3 L568.2 685.8 L571.4 685.5 L574.4 684.7 L577.0 682.8 L579.4 680.7 L581.7 678.3 L584.5 677.1 L587.7 676.7 L590.3 674.9 L592.9 675.3 L594.4 678.5 L591.3 680.0 L588.5 681.3 L585.5 682.1 L582.3 682.4 L579.5 683.6 L576.7 684.9 L573.9 686.2 L571.2 687.7 L568.6 689.4 L566.0 691.1 L562.8 691.5 L560.0 692.6 L556.9 693.4 L553.1 692.9 L551.7 696.7"/>
<path d="M714.3 198.0 L714.6 201.5 L717.5 203.5 L720.0 205.6 L720.5 208.9 L721.1 212.3 L723.4 214.6 L726.4 216.2 L728.3 217.4 L730.8 216.7 L733.8 215.1 L737.3 214.1 L741.1 214.4 L743.8 217.3 L745.1 220.6 L745.8 223.8 L748.1 226.1 L748.4 229.3 L747.0 232.2 L745.3 234.9 L743.8 237.7"/>
<path d="M218.3 370.0 L216.5 372.7 L216.1 375.7 L216.7 379.2 L213.8 380.7 L210.7 381.7 L208.2 383.5 L205.7 385.2 L203.8 387.8 L202.2 390.6 L200.3 392.8 L199.4 395.6 L197.6 398.9 L194.8 396.7 L192.2 394.7 L189.8 396.7 L187.0 398.1 L183.8 397.4 L180.7 397.5 L177.9 400.2 L181.2 401.6 L183.7 403.5 L185.8 404.4 L186.1 406.9 L187.4 409.7 L187.5 412.5 L185.1 414.5 L184.0 417.4 L183.9 419.7 L186.8 419.4 L189.0 419.3 L188.9 420.9 L189.2 424.4 L187.0 426.8 L184.3 428.8 L182.6 431.4 L181.7 434.3"/>
<path d="M200.0 391.7 L205.0 389.0 L210.0 394.3"/>
<path d="M186.7 398.3 L192.7 401.0 L200.0 398.3"/>
<path d="M183.3 420.0 L189.3 421.7 L193.3 419.0"/>
<path d="M304.8 172.2 L304.7 176.1 L302.0 178.6 L298.3 178.7 L295.2 178.6 L292.6 179.9 L289.7 181.3 L286.8 182.8 L285.2 185.9 L286.0 188.7 L288.3 190.8 L290.5 192.9 L292.3 195.4 L294.7 197.3 L298.0 196.8 L301.1 195.9 L303.9 198.1 L306.2 200.6 L308.9 201.8 L311.8 201.3 L315.1 201.1 L317.1 198.5 L319.6 196.1 L322.6 195.8 L325.5 195.3 L327.8 193.3 L330.3 191.6 L333.6 191.3 L336.6 191.3 L339.4 189.5 L342.7 187.9 L345.7 189.9 L347.8 192.3 L349.9 193.8 L351.5 196.4 L350.1 199.3 L349.7 202.3 L349.6 205.6 L347.7 208.2 L344.9 209.9 L342.5 211.9 L340.8 214.8 L341.8 218.0 L342.0 221.3 L338.9 222.8"/>
<path d="M978.4 715.4 L983.6 719.5 L986.7 724.2"/>
<path d="M974.3 736.0 L981.5 737.0"/>
<path d="M985.7 743.2 L992.9 741.2 L993.3 745.3"/>
<path d="M941.3 665.8 L946.4 666.8 L950.6 661.7 L951.6 657.5 L955.7 660.6 L959.9 656.5 L966.1 655.5 L970.2 657.5"/>
<path d="M950.6 682.3 L955.7 683.4 L959.9 680.3"/>
<path d="M944.4 664.4 L942.3 667.9"/>
<path d="M954.1 659.0 L953.3 655.5"/>
<path d="M963.0 656.1 L964.4 653.4"/>
<path d="M563.3 841.7 L568.3 846.7 L573.3 841.7"/>
<path d="M566.7 846.7 L569.3 848.6 L571.3 850.9 L572.7 853.8 L574.7 856.2 L577.4 857.7 L578.7 858.9 L575.9 858.0 L573.4 859.9 L571.2 862.8 L568.4 864.2 L565.5 865.3 L563.0 867.4 L560.6 868.1 L558.1 869.8 L555.7 872.0 L553.7 874.9 L555.5 878.2 L557.3 880.8 L557.6 882.2 L560.2 882.9 L563.3 883.3"/>
</g>
<g fill="none" stroke="#000" stroke-width="1.4" stroke-dasharray="1.3 1.64">
<path d="M-624.7 601.7 L-609.3 618.2 L-593.6 634.5 L-577.6 650.6 L-561.4 666.4 L-544.8 682.0 L-528.0 697.4 L-510.9 712.5 L-493.5 727.4 L-475.9 742.1 L-457.9 756.5 L-439.8 770.7 L-421.4 784.6 L-402.7 798.3 L-383.8 811.8 L-364.7 825.0 L-345.3 838.0 L-325.8 850.8 L-305.9 863.3 L-285.9 875.6 L-265.7 887.6 L-245.3 899.4 L-224.6 911.0 L-203.8 922.3 L-182.8 933.4 L-161.6 944.2 L-140.2 954.8 L-118.6 965.2 L-96.8 975.3 L-74.9 985.2 L-52.8 994.8 L-30.6 1004.2 L-8.2 1013.4 L14.3 1022.3 L37.0 1031.0 L59.9 1039.4 L82.9 1047.7 L106.0 1055.6 L129.2 1063.4 L152.6 1070.9 L176.1 1078.1 L199.7 1085.1 L223.4 1091.9 L247.2 1098.5 L271.2 1104.8 L295.2 1110.8 L319.4 1116.6 L343.6 1122.2 L367.9 1127.6 L392.3 1132.7 L416.8 1137.6 L441.4 1142.2 L466.0 1146.6 L490.7 1150.8 L515.5 1154.7 L540.3 1158.4 L565.2 1161.8 L590.2 1165.0 L615.2 1168.0 L640.2 1170.7 L665.3 1173.2 L690.5 1175.5 L715.6 1177.5 L740.8 1179.3 L766.0 1180.8 L791.3 1182.1 L816.5 1183.2 L841.8 1184.0 L867.1 1184.6 L892.4 1185.0 L917.7 1185.1 L943.0 1185.0 L968.3 1184.6 L993.6 1184.0 L1018.9 1183.2 L1044.1 1182.1 L1069.4 1180.8 L1094.6 1179.3 L1119.8 1177.5 L1144.9 1175.5 L1170.1 1173.2 L1195.2 1170.7 L1220.2 1168.0 L1245.2 1165.0 L1270.2 1161.8 L1295.1 1158.4 L1319.9 1154.7 L1344.7 1150.8 L1369.4 1146.6 L1394.0 1142.2 L1418.6 1137.6 L1443.1 1132.7 L1467.5 1127.6 L1491.8 1122.2 L1516.0 1116.6 L1540.2 1110.8 L1564.2 1104.8 L1588.2 1098.5 L1612.0 1091.9 L1635.7 1085.1 L1659.3 1078.1 L1682.8 1070.9 L1706.2 1063.4 L1729.4 1055.6 L1752.5 1047.7 L1775.5 1039.4 L1798.4 1031.0 L1821.1 1022.3 L1843.6 1013.4 L1866.0 1004.2 L1888.2 994.8 L1910.3 985.2 L1932.2 975.3 L1954.0 965.2 L1975.6 954.8 L1997.0 944.2 L2018.2 933.4 L2039.2 922.3 L2060.0 911.0 L2080.7 899.4 L2101.1 887.6 L2121.3 875.6 L2141.3 863.3 L2161.2 850.8 L2180.7 838.0 L2200.1 825.0 L2219.2 811.8 L2238.1 798.3 L2256.8 784.6 L2275.2 770.7 L2293.3 756.5 L2311.3 742.1 L2328.9 727.4 L2346.3 712.5 L2363.4 697.4 L2380.2 682.0 L2396.8 666.4 L2413.0 650.6 L2429.0 634.5 L2444.7 618.2 L2460.1 601.7"/>
<path d="M-499.3 465.7 L-485.6 481.3 L-471.6 496.7 L-457.3 511.9 L-442.7 526.9 L-427.9 541.7 L-412.7 556.2 L-397.3 570.6 L-381.7 584.7 L-365.7 598.6 L-349.6 612.3 L-333.1 625.7 L-316.5 639.0 L-299.6 652.0 L-282.4 664.8 L-265.0 677.4 L-247.4 689.7 L-229.6 701.9 L-211.6 713.8 L-193.3 725.5 L-174.9 736.9 L-156.2 748.2 L-137.3 759.2 L-118.3 770.0 L-99.0 780.6 L-79.6 790.9 L-60.0 801.0 L-40.2 810.9 L-20.3 820.6 L-0.2 830.0 L20.1 839.2 L40.6 848.2 L61.2 857.0 L81.9 865.5 L102.8 873.8 L123.8 881.9 L145.0 889.8 L166.3 897.4 L187.7 904.8 L209.3 912.0 L230.9 919.0 L252.7 925.7 L274.6 932.2 L296.7 938.4 L318.8 944.5 L341.0 950.3 L363.3 955.9 L385.7 961.2 L408.2 966.4 L430.8 971.3 L453.5 975.9 L476.2 980.4 L499.0 984.6 L521.9 988.6 L544.8 992.4 L567.8 995.9 L590.9 999.2 L614.0 1002.3 L637.2 1005.1 L660.4 1007.8 L683.7 1010.2 L707.0 1012.3 L730.3 1014.3 L753.7 1016.0 L777.0 1017.5 L800.4 1018.7 L823.9 1019.7 L847.3 1020.5 L870.8 1021.1 L894.2 1021.4 L917.7 1021.6 L941.2 1021.4 L964.6 1021.1 L988.1 1020.5 L1011.5 1019.7 L1035.0 1018.7 L1058.4 1017.5 L1081.7 1016.0 L1105.1 1014.3 L1128.4 1012.3 L1151.7 1010.2 L1175.0 1007.8 L1198.2 1005.1 L1221.4 1002.3 L1244.5 999.2 L1267.6 995.9 L1290.6 992.4 L1313.5 988.6 L1336.4 984.6 L1359.2 980.4 L1381.9 975.9 L1404.6 971.3 L1427.2 966.4 L1449.7 961.2 L1472.1 955.9 L1494.4 950.3 L1516.6 944.5 L1538.7 938.4 L1560.8 932.2 L1582.7 925.7 L1604.5 919.0 L1626.1 912.0 L1647.7 904.8 L1669.1 897.4 L1690.4 889.8 L1711.6 881.9 L1732.6 873.8 L1753.5 865.5 L1774.2 857.0 L1794.8 848.2 L1815.3 839.2 L1835.6 830.0 L1855.7 820.6 L1875.6 810.9 L1895.4 801.0 L1915.0 790.9 L1934.4 780.6 L1953.7 770.0 L1972.7 759.2 L1991.6 748.2 L2010.3 736.9 L2028.7 725.5 L2047.0 713.8 L2065.0 701.9 L2082.8 689.7 L2100.4 677.4 L2117.8 664.8 L2135.0 652.0 L2151.9 639.0 L2168.5 625.7 L2185.0 612.3 L2201.1 598.6 L2217.1 584.7 L2232.7 570.6 L2248.1 556.2 L2263.3 541.7 L2278.1 526.9 L2292.7 511.9 L2307.0 496.7 L2321.0 481.3 L2334.7 465.7"/>
<path d="M-366.1 337.3 L-354.1 351.8 L-341.8 366.1 L-329.2 380.3 L-316.3 394.2 L-303.2 408.0 L-289.8 421.6 L-276.2 434.9 L-262.3 448.1 L-248.1 461.1 L-233.7 473.9 L-219.1 486.4 L-204.2 498.8 L-189.1 511.0 L-173.8 523.0 L-158.2 534.8 L-142.5 546.3 L-126.5 557.7 L-110.3 568.9 L-93.9 579.9 L-77.3 590.6 L-60.5 601.2 L-43.5 611.5 L-26.3 621.7 L-9.0 631.6 L8.6 641.3 L26.3 650.8 L44.2 660.1 L62.2 669.2 L80.4 678.1 L98.8 686.8 L117.3 695.3 L136.0 703.5 L154.8 711.6 L173.8 719.4 L192.9 727.0 L212.1 734.4 L231.5 741.6 L250.9 748.6 L270.6 755.4 L290.3 762.0 L310.1 768.3 L330.1 774.4 L350.1 780.4 L370.3 786.1 L390.5 791.6 L410.9 796.8 L431.3 801.9 L451.9 806.8 L472.5 811.4 L493.2 815.8 L513.9 820.0 L534.8 824.0 L555.7 827.8 L576.6 831.3 L597.7 834.7 L618.7 837.8 L639.9 840.7 L661.1 843.4 L682.3 845.9 L703.6 848.2 L724.9 850.2 L746.2 852.1 L767.6 853.7 L789.0 855.1 L810.4 856.3 L831.8 857.2 L853.3 858.0 L874.8 858.5 L896.2 858.9 L917.7 859.0 L939.2 858.9 L960.6 858.5 L982.1 858.0 L1003.6 857.2 L1025.0 856.3 L1046.4 855.1 L1067.8 853.7 L1089.2 852.1 L1110.5 850.2 L1131.8 848.2 L1153.1 845.9 L1174.3 843.4 L1195.5 840.7 L1216.7 837.8 L1237.7 834.7 L1258.8 831.3 L1279.7 827.8 L1300.6 824.0 L1321.5 820.0 L1342.2 815.8 L1362.9 811.4 L1383.5 806.8 L1404.1 801.9 L1424.5 796.8 L1444.9 791.6 L1465.1 786.1 L1485.3 780.4 L1505.3 774.4 L1525.3 768.3 L1545.1 762.0 L1564.8 755.4 L1584.5 748.6 L1603.9 741.6 L1623.3 734.4 L1642.5 727.0 L1661.6 719.4 L1680.6 711.6 L1699.4 703.5 L1718.1 695.3 L1736.6 686.8 L1755.0 678.1 L1773.2 669.2 L1791.2 660.1 L1809.1 650.8 L1826.8 641.3 L1844.4 631.6 L1861.7 621.7 L1878.9 611.5 L1895.9 601.2 L1912.7 590.6 L1929.3 579.9 L1945.7 568.9 L1961.9 557.7 L1977.9 546.3 L1993.6 534.8 L2009.2 523.0 L2024.5 511.0 L2039.6 498.8 L2054.5 486.4 L2069.1 473.9 L2083.5 461.1 L2097.7 448.1 L2111.6 434.9 L2125.2 421.6 L2138.6 408.0 L2151.7 394.2 L2164.6 380.3 L2177.2 366.1 L2189.5 351.8 L2201.5 337.3"/>
<path d="M-225.7 216.9 L-215.3 230.1 L-204.7 243.2 L-193.9 256.1 L-182.7 268.8 L-171.4 281.4 L-159.7 293.8 L-147.9 306.1 L-135.7 318.1 L-123.4 330.0 L-110.8 341.7 L-98.0 353.3 L-85.0 364.6 L-71.7 375.8 L-58.3 386.8 L-44.6 397.7 L-30.7 408.3 L-16.6 418.8 L-2.4 429.1 L12.1 439.1 L26.8 449.1 L41.6 458.8 L56.7 468.3 L71.9 477.7 L87.3 486.8 L102.8 495.8 L118.5 504.6 L134.4 513.2 L150.5 521.6 L166.7 529.8 L183.0 537.9 L199.5 545.7 L216.2 553.3 L232.9 560.8 L249.9 568.0 L266.9 575.1 L284.1 582.0 L301.4 588.6 L318.8 595.1 L336.3 601.4 L354.0 607.5 L371.8 613.4 L389.6 619.1 L407.6 624.6 L425.6 629.9 L443.8 635.0 L462.1 639.9 L480.4 644.6 L498.8 649.1 L517.3 653.4 L535.9 657.5 L554.5 661.4 L573.2 665.1 L592.0 668.6 L610.9 671.9 L629.8 675.0 L648.7 677.9 L667.7 680.7 L686.8 683.2 L705.9 685.5 L725.0 687.6 L744.2 689.5 L763.4 691.2 L782.6 692.7 L801.8 694.0 L821.1 695.1 L840.4 696.0 L859.7 696.7 L879.0 697.2 L898.4 697.5 L917.7 697.6 L937.0 697.5 L956.4 697.2 L975.7 696.7 L995.0 696.0 L1014.3 695.1 L1033.6 694.0 L1052.8 692.7 L1072.0 691.2 L1091.2 689.5 L1110.4 687.6 L1129.5 685.5 L1148.6 683.2 L1167.7 680.7 L1186.7 677.9 L1205.6 675.0 L1224.5 671.9 L1243.4 668.6 L1262.2 665.1 L1280.9 661.4 L1299.5 657.5 L1318.1 653.4 L1336.6 649.1 L1355.0 644.6 L1373.3 639.9 L1391.6 635.0 L1409.8 629.9 L1427.8 624.6 L1445.8 619.1 L1463.6 613.4 L1481.4 607.5 L1499.1 601.4 L1516.6 595.1 L1534.0 588.6 L1551.3 582.0 L1568.5 575.1 L1585.5 568.0 L1602.5 560.8 L1619.2 553.3 L1635.9 545.7 L1652.4 537.9 L1668.7 529.8 L1684.9 521.6 L1701.0 513.2 L1716.9 504.6 L1732.6 495.8 L1748.1 486.8 L1763.5 477.7 L1778.7 468.3 L1793.8 458.8 L1808.6 449.1 L1823.3 439.1 L1837.8 429.1 L1852.0 418.8 L1866.1 408.3 L1880.0 397.7 L1893.7 386.8 L1907.1 375.8 L1920.4 364.6 L1933.4 353.3 L1946.2 341.7 L1958.8 330.0 L1971.1 318.1 L1983.3 306.1 L1995.1 293.8 L2006.8 281.4 L2018.1 268.8 L2029.3 256.1 L2040.1 243.2 L2050.7 230.1 L2061.1 216.9"/>
<path d="M-78.5 104.8 L-69.8 116.6 L-60.9 128.2 L-51.7 139.7 L-42.3 151.1 L-32.7 162.3 L-22.8 173.4 L-12.7 184.4 L-2.4 195.2 L8.1 205.8 L18.8 216.3 L29.8 226.6 L40.9 236.8 L52.3 246.9 L63.8 256.7 L75.6 266.5 L87.5 276.0 L99.6 285.4 L111.9 294.7 L124.4 303.8 L137.1 312.7 L149.9 321.5 L162.9 330.1 L176.1 338.5 L189.5 346.8 L203.0 354.9 L216.6 362.8 L230.4 370.6 L244.4 378.2 L258.4 385.6 L272.7 392.8 L287.1 399.9 L301.6 406.8 L316.2 413.6 L331.0 420.2 L345.8 426.6 L360.9 432.8 L376.0 438.8 L391.2 444.7 L406.6 450.4 L422.0 455.9 L437.6 461.2 L453.2 466.4 L469.0 471.4 L484.8 476.2 L500.7 480.8 L516.7 485.3 L532.8 489.6 L549.0 493.7 L565.3 497.6 L581.6 501.3 L598.0 504.9 L614.4 508.2 L630.9 511.4 L647.5 514.4 L664.1 517.3 L680.8 519.9 L697.5 522.4 L714.3 524.7 L731.1 526.8 L747.9 528.7 L764.8 530.4 L781.7 532.0 L798.7 533.4 L815.6 534.6 L832.6 535.6 L849.6 536.4 L866.6 537.0 L883.6 537.5 L900.7 537.8 L917.7 537.8 L934.7 537.8 L951.8 537.5 L968.8 537.0 L985.8 536.4 L1002.8 535.6 L1019.8 534.6 L1036.7 533.4 L1053.7 532.0 L1070.6 530.4 L1087.5 528.7 L1104.3 526.8 L1121.1 524.7 L1137.9 522.4 L1154.6 519.9 L1171.3 517.3 L1187.9 514.4 L1204.5 511.4 L1221.0 508.2 L1237.4 504.9 L1253.8 501.3 L1270.1 497.6 L1286.4 493.7 L1302.6 489.6 L1318.7 485.3 L1334.7 480.8 L1350.6 476.2 L1366.4 471.4 L1382.2 466.4 L1397.8 461.2 L1413.4 455.9 L1428.8 450.4 L1444.2 444.7 L1459.4 438.8 L1474.5 432.8 L1489.6 426.6 L1504.4 420.2 L1519.2 413.6 L1533.8 406.8 L1548.3 399.9 L1562.7 392.8 L1577.0 385.6 L1591.0 378.2 L1605.0 370.6 L1618.8 362.8 L1632.4 354.9 L1645.9 346.8 L1659.3 338.5 L1672.5 330.1 L1685.5 321.5 L1698.3 312.7 L1711.0 303.8 L1723.5 294.7 L1735.8 285.4 L1747.9 276.0 L1759.8 266.5 L1771.6 256.7 L1783.1 246.9 L1794.5 236.8 L1805.6 226.6 L1816.6 216.3 L1827.3 205.8 L1837.8 195.2 L1848.1 184.4 L1858.2 173.4 L1868.1 162.3 L1877.7 151.1 L1887.1 139.7 L1896.3 128.2 L1905.2 116.6 L1913.9 104.8"/>
<path d="M74.9 1.4 L82.0 11.6 L89.3 21.7 L96.8 31.6 L104.5 41.5 L112.4 51.2 L120.5 60.8 L128.8 70.3 L137.3 79.6 L146.0 88.9 L154.8 98.0 L163.9 107.0 L173.2 115.8 L182.6 124.6 L192.2 133.2 L202.0 141.6 L212.0 150.0 L222.1 158.2 L232.4 166.2 L242.8 174.2 L253.4 182.0 L264.2 189.6 L275.1 197.1 L286.2 204.5 L297.4 211.8 L308.8 218.8 L320.3 225.8 L331.9 232.6 L343.7 239.3 L355.6 245.8 L367.6 252.1 L379.8 258.4 L392.1 264.4 L404.4 270.4 L417.0 276.1 L429.6 281.8 L442.3 287.2 L455.1 292.6 L468.1 297.7 L481.1 302.7 L494.3 307.6 L507.5 312.3 L520.8 316.9 L534.2 321.2 L547.7 325.5 L561.3 329.6 L574.9 333.5 L588.6 337.3 L602.4 340.9 L616.3 344.3 L630.2 347.6 L644.2 350.8 L658.3 353.8 L672.4 356.6 L686.5 359.2 L700.7 361.7 L715.0 364.1 L729.3 366.3 L743.6 368.3 L758.0 370.1 L772.4 371.8 L786.9 373.4 L801.3 374.7 L815.8 376.0 L830.3 377.0 L844.9 377.9 L859.4 378.6 L874.0 379.2 L888.5 379.6 L903.1 379.8 L917.7 379.9 L932.3 379.8 L946.9 379.6 L961.4 379.2 L976.0 378.6 L990.5 377.9 L1005.1 377.0 L1019.6 376.0 L1034.1 374.7 L1048.5 373.4 L1063.0 371.8 L1077.4 370.1 L1091.8 368.3 L1106.1 366.3 L1120.4 364.1 L1134.7 361.7 L1148.9 359.2 L1163.0 356.6 L1177.1 353.8 L1191.2 350.8 L1205.2 347.6 L1219.1 344.3 L1233.0 340.9 L1246.8 337.3 L1260.5 333.5 L1274.1 329.6 L1287.7 325.5 L1301.2 321.2 L1314.6 316.9 L1327.9 312.3 L1341.1 307.6 L1354.3 302.7 L1367.3 297.7 L1380.3 292.6 L1393.1 287.2 L1405.8 281.8 L1418.4 276.1 L1431.0 270.4 L1443.3 264.4 L1455.6 258.4 L1467.8 252.1 L1479.8 245.8 L1491.7 239.3 L1503.5 232.6 L1515.1 225.8 L1526.6 218.8 L1538.0 211.8 L1549.2 204.5 L1560.3 197.1 L1571.2 189.6 L1582.0 182.0 L1592.6 174.2 L1603.0 166.2 L1613.3 158.2 L1623.4 150.0 L1633.4 141.6 L1643.2 133.2 L1652.8 124.6 L1662.2 115.8 L1671.5 107.0 L1680.6 98.0 L1689.4 88.9 L1698.1 79.6 L1706.6 70.3 L1714.9 60.8 L1723.0 51.2 L1730.9 41.5 L1738.6 31.6 L1746.1 21.7 L1753.4 11.6 L1760.5 1.4"/>
<path d="M234.1 -92.8 L239.6 -84.4 L245.3 -76.1 L251.1 -67.9 L257.1 -59.7 L263.3 -51.7 L269.7 -43.7 L276.3 -35.8 L283.0 -28.1 L289.8 -20.4 L296.9 -12.8 L304.1 -5.3 L311.4 2.1 L318.9 9.3 L326.6 16.5 L334.4 23.6 L342.3 30.5 L350.4 37.4 L358.7 44.1 L367.1 50.8 L375.6 57.3 L384.2 63.7 L393.0 70.0 L401.9 76.2 L411.0 82.3 L420.1 88.2 L429.4 94.0 L438.8 99.8 L448.4 105.4 L458.0 110.8 L467.7 116.2 L477.6 121.4 L487.5 126.5 L497.6 131.5 L507.8 136.4 L518.0 141.1 L528.4 145.7 L538.8 150.2 L549.4 154.6 L560.0 158.8 L570.7 162.9 L581.5 166.9 L592.4 170.7 L603.3 174.5 L614.3 178.0 L625.4 181.5 L636.6 184.8 L647.8 188.0 L659.1 191.1 L670.4 194.0 L681.8 196.8 L693.3 199.4 L704.8 202.0 L716.3 204.3 L728.0 206.6 L739.6 208.7 L751.3 210.7 L763.0 212.6 L774.8 214.3 L786.6 215.8 L798.4 217.3 L810.3 218.6 L822.1 219.8 L834.0 220.8 L845.9 221.7 L857.9 222.4 L869.8 223.0 L881.8 223.5 L893.8 223.9 L905.7 224.1 L917.7 224.1 L929.7 224.1 L941.6 223.9 L953.6 223.5 L965.6 223.0 L977.5 222.4 L989.5 221.7 L1001.4 220.8 L1013.3 219.8 L1025.1 218.6 L1037.0 217.3 L1048.8 215.8 L1060.6 214.3 L1072.4 212.6 L1084.1 210.7 L1095.8 208.7 L1107.4 206.6 L1119.1 204.3 L1130.6 202.0 L1142.1 199.4 L1153.6 196.8 L1165.0 194.0 L1176.3 191.1 L1187.6 188.0 L1198.8 184.8 L1210.0 181.5 L1221.1 178.0 L1232.1 174.5 L1243.0 170.7 L1253.9 166.9 L1264.7 162.9 L1275.4 158.8 L1286.0 154.6 L1296.6 150.2 L1307.0 145.7 L1317.4 141.1 L1327.6 136.4 L1337.8 131.5 L1347.9 126.5 L1357.8 121.4 L1367.7 116.2 L1377.4 110.8 L1387.0 105.4 L1396.6 99.8 L1406.0 94.0 L1415.3 88.2 L1424.4 82.3 L1433.5 76.2 L1442.4 70.0 L1451.2 63.7 L1459.8 57.3 L1468.3 50.8 L1476.7 44.1 L1485.0 37.4 L1493.1 30.5 L1501.0 23.6 L1508.8 16.5 L1516.5 9.3 L1524.0 2.1 L1531.3 -5.3 L1538.5 -12.8 L1545.6 -20.4 L1552.4 -28.1 L1559.1 -35.8 L1565.7 -43.7 L1572.1 -51.7 L1578.3 -59.7 L1584.3 -67.9 L1590.1 -76.1 L1595.8 -84.4 L1601.3 -92.8"/>
<path d="M-181.0 1313.7 L-169.3 1281.4 L-157.3 1249.2 L-145.1 1217.1 L-132.7 1185.1 L-120.0 1153.1 L-107.0 1121.2 L-93.8 1089.5 L-80.4 1057.8 L-66.7 1026.3 L-52.8 994.8 L-38.7 963.5 L-24.4 932.2 L-9.8 901.1 L5.1 870.1 L20.1 839.2 L35.4 808.5 L50.9 777.9 L66.7 747.4 L82.6 717.0 L98.8 686.8 L115.2 656.7 L131.8 626.8 L148.7 597.0 L165.7 567.3 L183.0 537.9 L200.5 508.5 L218.2 479.4 L236.2 450.4 L254.3 421.5 L272.7 392.8 L291.3 364.3 L310.0 336.0 L329.0 307.9 L348.2 279.9 L367.6 252.1 L387.2 224.6 L407.1 197.2 L427.1 170.0 L447.3 143.0 L467.7 116.2 L488.4 89.6 L509.2 63.2 L530.2 37.1 L551.5 11.1 L572.9 -14.6 L594.5 -40.1 L616.3 -65.4 L638.4 -90.4 L660.6 -115.2 L683.0 -139.8 L705.6 -164.1 L728.4 -188.2 L751.4 -212.0 L774.6 -235.6 L798.0 -258.9"/>
<path d="M80.1 1401.5 L88.8 1368.9 L97.8 1336.4 L106.9 1303.9 L116.2 1271.5 L125.7 1239.1 L135.4 1206.8 L145.3 1174.5 L155.4 1142.3 L165.6 1110.2 L176.1 1078.1 L186.7 1046.1 L197.5 1014.2 L208.5 982.4 L219.6 950.6 L230.9 919.0 L242.5 887.4 L254.2 855.9 L266.0 824.5 L278.1 793.2 L290.3 762.0 L302.7 730.8 L315.2 699.8 L328.0 668.9 L340.9 638.2 L354.0 607.5 L367.3 576.9 L380.7 546.5 L394.3 516.2 L408.1 486.0 L422.0 455.9 L436.1 426.0 L450.4 396.2 L464.9 366.5 L479.5 337.0 L494.3 307.6 L509.2 278.4 L524.3 249.3 L539.6 220.3 L555.1 191.5 L570.7 162.9 L586.5 134.5 L602.4 106.2 L618.6 78.0 L634.8 50.1 L651.3 22.3 L667.9 -5.3 L684.7 -32.8 L701.6 -60.0 L718.7 -87.1 L736.0 -113.9 L753.4 -140.6 L771.0 -167.1 L788.8 -193.4 L806.7 -219.5 L824.8 -245.3"/>
<path d="M352.9 1463.9 L358.7 1431.1 L364.7 1398.4 L370.7 1365.7 L376.9 1333.0 L383.3 1300.3 L389.7 1267.7 L396.3 1235.1 L403.0 1202.6 L409.9 1170.0 L416.8 1137.6 L423.9 1105.1 L431.1 1072.8 L438.4 1040.4 L445.9 1008.2 L453.5 975.9 L461.2 943.8 L469.0 911.7 L476.9 879.7 L485.0 847.7 L493.2 815.8 L501.5 784.0 L509.9 752.2 L518.4 720.6 L527.1 689.0 L535.9 657.5 L544.8 626.1 L553.8 594.7 L562.9 563.5 L572.2 532.4 L581.6 501.3 L591.1 470.4 L600.7 439.5 L610.4 408.8 L620.3 378.2 L630.2 347.6 L640.3 317.2 L650.5 286.9 L660.8 256.8 L671.3 226.7 L681.8 196.8 L692.5 167.0 L703.3 137.3 L714.2 107.8 L725.2 78.4 L736.4 49.1 L747.6 20.0 L759.0 -9.0 L770.5 -37.9 L782.1 -66.5 L793.8 -95.1 L805.7 -123.5 L817.6 -151.7 L829.7 -179.8 L841.9 -207.7 L854.3 -235.4"/>
<path d="M633.4 1501.3 L636.3 1468.4 L639.3 1435.5 L642.3 1402.7 L645.4 1369.8 L648.6 1337.0 L651.8 1304.2 L655.1 1271.4 L658.4 1238.7 L661.8 1205.9 L665.3 1173.2 L668.9 1140.5 L672.5 1107.9 L676.1 1075.3 L679.9 1042.7 L683.7 1010.2 L687.5 977.7 L691.4 945.2 L695.4 912.8 L699.5 880.5 L703.6 848.2 L707.7 815.9 L712.0 783.8 L716.2 751.6 L720.6 719.6 L725.0 687.6 L729.5 655.7 L734.0 623.8 L738.6 592.0 L743.2 560.3 L747.9 528.7 L752.7 497.2 L757.6 465.7 L762.4 434.3 L767.4 403.0 L772.4 371.8 L777.5 340.7 L782.6 309.7 L787.8 278.8 L793.1 248.0 L798.4 217.3 L803.8 186.7 L809.2 156.2 L814.7 125.8 L820.3 95.5 L825.9 65.4 L831.6 35.3 L837.3 5.4 L843.1 -24.4 L849.0 -54.1 L854.9 -83.6 L860.9 -113.0 L867.0 -142.3 L873.1 -171.4 L879.3 -200.4 L885.5 -229.3"/>
<path d="M917.7 1513.7 L917.7 1480.8 L917.7 1447.9 L917.7 1415.0 L917.7 1382.1 L917.7 1349.2 L917.7 1316.4 L917.7 1283.5 L917.7 1250.7 L917.7 1217.9 L917.7 1185.1 L917.7 1152.3 L917.7 1119.6 L917.7 1086.9 L917.7 1054.2 L917.7 1021.6 L917.7 989.0 L917.7 956.4 L917.7 923.9 L917.7 891.4 L917.7 859.0 L917.7 826.6 L917.7 794.3 L917.7 762.0 L917.7 729.8 L917.7 697.6 L917.7 665.5 L917.7 633.5 L917.7 601.6 L917.7 569.7 L917.7 537.8 L917.7 506.1 L917.7 474.4 L917.7 442.8 L917.7 411.3 L917.7 379.9 L917.7 348.6 L917.7 317.3 L917.7 286.2 L917.7 255.1 L917.7 224.1 L917.7 193.3 L917.7 162.5 L917.7 131.8 L917.7 101.3 L917.7 70.8 L917.7 40.5 L917.7 10.3 L917.7 -19.9 L917.7 -49.9 L917.7 -79.7 L917.7 -109.5 L917.7 -139.1 L917.7 -168.6 L917.7 -198.0 L917.7 -227.3"/>
<path d="M1202.0 1501.3 L1199.1 1468.4 L1196.1 1435.5 L1193.1 1402.7 L1190.0 1369.8 L1186.8 1337.0 L1183.6 1304.2 L1180.3 1271.4 L1177.0 1238.7 L1173.6 1205.9 L1170.1 1173.2 L1166.5 1140.5 L1162.9 1107.9 L1159.3 1075.3 L1155.5 1042.7 L1151.7 1010.2 L1147.9 977.7 L1144.0 945.2 L1140.0 912.8 L1135.9 880.5 L1131.8 848.2 L1127.7 815.9 L1123.4 783.8 L1119.2 751.6 L1114.8 719.6 L1110.4 687.6 L1105.9 655.7 L1101.4 623.8 L1096.8 592.0 L1092.2 560.3 L1087.5 528.7 L1082.7 497.2 L1077.8 465.7 L1073.0 434.3 L1068.0 403.0 L1063.0 371.8 L1057.9 340.7 L1052.8 309.7 L1047.6 278.8 L1042.3 248.0 L1037.0 217.3 L1031.6 186.7 L1026.2 156.2 L1020.7 125.8 L1015.1 95.5 L1009.5 65.4 L1003.8 35.3 L998.1 5.4 L992.3 -24.4 L986.4 -54.1 L980.5 -83.6 L974.5 -113.0 L968.4 -142.3 L962.3 -171.4 L956.1 -200.4 L949.9 -229.3"/>
<path d="M1482.5 1463.9 L1476.7 1431.1 L1470.7 1398.4 L1464.7 1365.7 L1458.5 1333.0 L1452.1 1300.3 L1445.7 1267.7 L1439.1 1235.1 L1432.4 1202.6 L1425.5 1170.0 L1418.6 1137.6 L1411.5 1105.1 L1404.3 1072.8 L1397.0 1040.4 L1389.5 1008.2 L1381.9 975.9 L1374.2 943.8 L1366.4 911.7 L1358.5 879.7 L1350.4 847.7 L1342.2 815.8 L1333.9 784.0 L1325.5 752.2 L1317.0 720.6 L1308.3 689.0 L1299.5 657.5 L1290.6 626.1 L1281.6 594.7 L1272.5 563.5 L1263.2 532.4 L1253.8 501.3 L1244.3 470.4 L1234.7 439.5 L1225.0 408.8 L1215.1 378.2 L1205.2 347.6 L1195.1 317.2 L1184.9 286.9 L1174.6 256.8 L1164.1 226.7 L1153.6 196.8 L1142.9 167.0 L1132.1 137.3 L1121.2 107.8 L1110.2 78.4 L1099.0 49.1 L1087.8 20.0 L1076.4 -9.0 L1064.9 -37.9 L1053.3 -66.5 L1041.6 -95.1 L1029.7 -123.5 L1017.8 -151.7 L1005.7 -179.8 L993.5 -207.7 L981.1 -235.4"/>
</g>
<g fill="#000">
<circle cx="772.5" cy="235.5" r="3.9"/>
<circle cx="420" cy="420.5" r="3.9"/>
<circle cx="224" cy="489" r="3.9"/>
<circle cx="278" cy="565" r="3.9"/>
<circle cx="413" cy="628" r="3.9"/>
<circle cx="639" cy="628" r="3.9"/>
<circle cx="591" cy="668" r="3.9"/>
<circle cx="783" cy="661" r="3.9"/>
<circle cx="663" cy="721" r="3.9"/>
<circle cx="803" cy="800" r="3.9"/>
<circle cx="1006" cy="783" r="3.9"/>
<circle cx="1076" cy="794" r="3.9"/>
<circle cx="1196" cy="775" r="3.9"/>
</g>
<g class="dj" font-size="17.9" fill="#000">
<text x="773.2" y="235.4">Норильск</text>
<text x="420.7" y="420.4">Ханты-Мансийск</text>
<text x="224.7" y="488.9">Екатеринбург</text>
<text x="278.7" y="564.9">Курган</text>
<text x="413.7" y="627.9">Омск</text>
<text x="639.7" y="627.9">Томск</text>
<text x="591.7" y="667.9">Новосибирск</text>
<text x="783.7" y="660.9">Красноярск</text>
<text x="663.7" y="720.9">Новокузнецк</text>
<text x="803.7" y="799.9">Кызыл</text>
<text x="1006.7" y="782.9">Иркутск</text>
<text x="1076.7" y="793.9">Улан-Удэ</text>
<text x="1196.7" y="774.9">Чита</text>
</g>
</g>
<rect x="155.5" y="171.5" width="1256.0" height="970.5999999999999" fill="none" stroke="#000" stroke-width="1.4"/>
<g class="dj" font-size="25" fill="#000">
<text x="142" y="333.6" text-anchor="end">60°N</text>
<text x="142" y="532.6" text-anchor="end">55°N</text>
<text x="142" y="719.6" text-anchor="end">50°N</text>
<text x="142" y="899.6" text-anchor="end">45°N</text>
<text x="142" y="1077.6" text-anchor="end">40°N</text>
<text x="155" y="1174.5" text-anchor="middle">70°E</text>
<text x="417" y="1174.5" text-anchor="middle">80°E</text>
<text x="668" y="1174.5" text-anchor="middle">90°E</text>
<text x="918" y="1174.5" text-anchor="middle">100°E</text>
<text x="1168" y="1174.5" text-anchor="middle">110°E</text>
</g>
<g shape-rendering="crispEdges">
<rect x="212.40" y="1190.5" width="23.32" height="49.0" fill="#7610ff"/>
<rect x="235.22" y="1190.5" width="23.32" height="49.0" fill="#6c1fff"/>
<rect x="258.05" y="1190.5" width="23.32" height="49.0" fill="#622ffe"/>
<rect x="280.87" y="1190.5" width="23.32" height="49.0" fill="#583efd"/>
<rect x="303.70" y="1190.5" width="23.32" height="49.0" fill="#4e4dfc"/>
<rect x="326.52" y="1190.5" width="23.32" height="49.0" fill="#445cfb"/>
<rect x="349.34" y="1190.5" width="23.32" height="49.0" fill="#396bf9"/>
<rect x="372.17" y="1190.5" width="23.32" height="49.0" fill="#3079f7"/>
<rect x="394.99" y="1190.5" width="23.32" height="49.0" fill="#2686f5"/>
<rect x="417.82" y="1190.5" width="23.32" height="49.0" fill="#1c93f3"/>
<rect x="440.64" y="1190.5" width="23.32" height="49.0" fill="#11a0f1"/>
<rect x="463.46" y="1190.5" width="23.32" height="49.0" fill="#08acee"/>
<rect x="486.29" y="1190.5" width="23.32" height="49.0" fill="#02b7eb"/>
<rect x="509.11" y="1190.5" width="23.32" height="49.0" fill="#0dc2e8"/>
<rect x="531.94" y="1190.5" width="23.32" height="49.0" fill="#17cbe4"/>
<rect x="554.76" y="1190.5" width="23.32" height="49.0" fill="#20d5e1"/>
<rect x="577.58" y="1190.5" width="23.32" height="49.0" fill="#2adddd"/>
<rect x="600.41" y="1190.5" width="23.32" height="49.0" fill="#34e4d9"/>
<rect x="623.23" y="1190.5" width="23.32" height="49.0" fill="#3febd5"/>
<rect x="646.06" y="1190.5" width="23.32" height="49.0" fill="#48f1d0"/>
<rect x="668.88" y="1190.5" width="23.32" height="49.0" fill="#52f5cb"/>
<rect x="691.70" y="1190.5" width="23.32" height="49.0" fill="#5df9c7"/>
<rect x="714.53" y="1190.5" width="23.32" height="49.0" fill="#66fcc2"/>
<rect x="737.35" y="1190.5" width="23.32" height="49.0" fill="#70febc"/>
<rect x="760.18" y="1190.5" width="23.32" height="49.0" fill="#7affb7"/>
<rect x="783.00" y="1190.5" width="23.32" height="49.0" fill="#84ffb2"/>
<rect x="805.82" y="1190.5" width="23.32" height="49.0" fill="#8efeac"/>
<rect x="828.65" y="1190.5" width="23.32" height="49.0" fill="#99fca6"/>
<rect x="851.47" y="1190.5" width="23.32" height="49.0" fill="#a2f9a0"/>
<rect x="874.30" y="1190.5" width="23.32" height="49.0" fill="#acf59a"/>
<rect x="897.12" y="1190.5" width="23.32" height="49.0" fill="#b6f193"/>
<rect x="919.94" y="1190.5" width="23.32" height="49.0" fill="#c0eb8d"/>
<rect x="942.77" y="1190.5" width="23.32" height="49.0" fill="#cbe486"/>
<rect x="965.59" y="1190.5" width="23.32" height="49.0" fill="#d4dd80"/>
<rect x="988.42" y="1190.5" width="23.32" height="49.0" fill="#ded579"/>
<rect x="1011.24" y="1190.5" width="23.32" height="49.0" fill="#e8cb72"/>
<rect x="1034.06" y="1190.5" width="23.32" height="49.0" fill="#f2c26b"/>
<rect x="1056.89" y="1190.5" width="23.32" height="49.0" fill="#fcb763"/>
<rect x="1079.71" y="1190.5" width="23.32" height="49.0" fill="#ffac5c"/>
<rect x="1102.54" y="1190.5" width="23.32" height="49.0" fill="#ffa055"/>
<rect x="1125.36" y="1190.5" width="23.32" height="49.0" fill="#ff934d"/>
<rect x="1148.18" y="1190.5" width="23.32" height="49.0" fill="#ff8646"/>
<rect x="1171.01" y="1190.5" width="23.32" height="49.0" fill="#ff793e"/>
<rect x="1193.83" y="1190.5" width="23.32" height="49.0" fill="#ff6b37"/>
<rect x="1216.66" y="1190.5" width="23.32" height="49.0" fill="#ff5c2f"/>
<rect x="1239.48" y="1190.5" width="23.32" height="49.0" fill="#ff4d27"/>
<rect x="1262.30" y="1190.5" width="23.32" height="49.0" fill="#ff3e1f"/>
<rect x="1285.13" y="1190.5" width="23.32" height="49.0" fill="#ff2f18"/>
<rect x="1307.95" y="1190.5" width="23.32" height="49.0" fill="#ff1f10"/>
<rect x="1330.78" y="1190.5" width="23.32" height="49.0" fill="#ff1008"/>
</g>
<polygon points="212.70000000000002,1190.5 155.3,1215.0 212.70000000000002,1239.5" fill="#8000ff"/>
<polygon points="1353.3,1190.5 1410.7,1215.0 1353.3,1239.5" fill="#ff0000"/>
<polygon points="212.4,1190.5 1353.6,1190.5 1410.7,1215.0 1353.6,1239.5 212.4,1239.5 155.3,1215.0" fill="none" stroke="#000" stroke-width="1"/>
<g stroke="#000" stroke-width="1">
<line x1="212.4" y1="1239.5" x2="212.4" y2="1244.0"/>
<line x1="440.6" y1="1239.5" x2="440.6" y2="1244.0"/>
<line x1="668.9" y1="1239.5" x2="668.9" y2="1244.0"/>
<line x1="897.1" y1="1239.5" x2="897.1" y2="1244.0"/>
<line x1="1125.4" y1="1239.5" x2="1125.4" y2="1244.0"/>
<line x1="1353.6" y1="1239.5" x2="1353.6" y2="1244.0"/>
</g>
<g class="dj" font-size="25" fill="#000" text-anchor="middle">
<text x="212.4" y="1267.3">1.80</text>
<text x="440.6" y="1267.3">1.83</text>
<text x="668.9" y="1267.3">1.86</text>
<text x="897.1" y="1267.3">1.89</text>
<text x="1125.4" y="1267.3">1.92</text>
<text x="1353.6" y="1267.3">1.95</text>
</g>
<g class="dj" font-size="25.07" fill="#000" text-anchor="middle">
<text x="783" y="80.3">ФЕДЕРАЛЬНАЯ СЛУЖБА ПО ГИДРОМЕТЕОРОЛОГИИ И МОНИТОРИНГУ ОКРУЖАЮЩЕЙ СРЕДЫ</text>
<text x="783" y="111.8">ФГБУ "НАУЧНО-ИССЛЕДОВАТЕЛЬСКИЙ ЦЕНТР КОСМИЧЕСКОЙ ГИДРОМЕТЕОРОЛОГИИ "ПЛАНЕТА"</text>
<text x="783" y="143.3">СИБИРСКИЙ ЦЕНТР</text>
<text x="783" y="1356">Среднее отношение смеси метана (CH4)</text>
<text x="783" y="1385">в атмосферном столбе, ppmv</text>
</g>
<g class="ar" font-size="18" fill="#000">
<text x="1241.3" y="1347.9">КА NOAA-20/(CRIS/ATMS)</text>
<text x="1241.3" y="1368.8">2026-01-03 05:13:38</text>
<text x="1241.3" y="1389.8">2026-01-03 06:51:14</text>
<text x="1241.3" y="1410.7">2026-01-03 08:33:06</text>
</g>
<g class="ar" font-size="14.2" fill="#2a2a2a">
<text x="17" y="1430.5">Сибирский центр ФГБУ «НИЦ «Планета»</text>
<text x="17" y="1447.2">Россия, 630099, г. Новосибирск, ул. Советская, 30</text>
<text x="17" y="1464.0">Тел.: (383) 363-46-05, Факс: (383) 363-46-05</text>
<text x="17" y="1480.8">E-Mail: <tspan class="dj" font-size="13" fill="#000">alexk@rcpod.ru, www.rcpod.ru</tspan></text>
</g>
<g transform="translate(0,50) scale(0.129032)">
<defs><clipPath id="lg1"><rect x="86" y="78" width="764" height="740"/></clipPath></defs>
<rect x="86" y="78" width="764" height="740" fill="#fff"/>
<g clip-path="url(#lg1)">
<path d="M602.5 81 A367 367 0 1 1 87.9 603.7" fill="none" stroke="#00008b" stroke-width="11"/>
<path d="M95 330 C105 260 150 180 210 140 C260 108 330 95 390 98 C450 100 500 125 545 170 C585 215 612 270 620 330 C610 345 585 335 570 322 C560 312 550 306 543 306 C535 330 505 375 470 400 C440 418 410 422 380 420 C340 418 290 405 250 385 C225 370 208 352 200 342 C192 352 165 372 140 372 C115 370 98 352 95 330Z" fill="#2828ee"/>
<path d="M125 478 C150 455 200 438 250 440 C310 445 370 468 430 482 C480 490 540 465 580 440 C595 430 608 420 616 413 C612 440 595 480 565 520 C540 555 500 585 450 600 C400 615 340 612 290 595 C230 575 170 530 125 478Z" fill="#00008b"/>
<circle cx="727" cy="313" r="47" fill="#00008b"/>
<path d="M790 530 L790 758 L545 758 C640 720 740 640 790 530Z" fill="#00008b"/>
</g>
</g>
<rect x="11.5" y="60.5" width="98" height="94.8" fill="none" stroke="#00008b" stroke-width="1.1"/>
<g transform="translate(345,1385) scale(0.077419)">
<rect x="132" y="105" width="1273" height="1233" fill="#fff"/>
<path d="M132 105H1405M132 1338H1405" stroke="#bbb" stroke-width="8" fill="none"/>
<path d="M132 105V1338M1405 105V1338" stroke="#111" stroke-width="13" fill="none"/>
<path d="M1300 350 C1200 280 1000 235 800 240 C620 250 440 330 330 460 C250 560 222 640 222 720 C225 850 280 960 400 1060 C520 1150 680 1195 830 1195 C1010 1195 1180 1160 1300 1080 L1300 900 C1200 920 1100 925 1030 910 C920 880 855 800 852 715 C855 620 920 540 1040 500 C1120 480 1220 500 1300 535Z" fill="#fff" stroke="#000" stroke-width="22" stroke-linejoin="round"/>
<g font-family="'Liberation Sans',Arial,sans-serif" font-weight="bold" fill="#000" stroke="#000" stroke-width="5">
<text x="425" y="600" font-size="172" textLength="360" lengthAdjust="spacingAndGlyphs">ИСО</text>
<text x="360" y="770" font-size="172" textLength="400" lengthAdjust="spacingAndGlyphs">9001</text>
<text x="360" y="935" font-size="172" textLength="470" lengthAdjust="spacingAndGlyphs">-2015</text>
<path id="lg2a" d="M285 385 A1134 1134 0 0 1 1340 300" fill="none"/>
<path id="lg2b" d="M485 1245 A1065 1065 0 0 0 1190 1245" fill="none"/>
<text font-size="100" stroke-width="3" textLength="1085" lengthAdjust="spacingAndGlyphs"><textPath href="#lg2a" textLength="1085" lengthAdjust="spacingAndGlyphs">ДОБРОСОВЕСТНЫЙ</textPath></text>
<text font-size="96" stroke-width="3" textLength="720" lengthAdjust="spacingAndGlyphs"><textPath href="#lg2b" textLength="720" lengthAdjust="spacingAndGlyphs">ПОСТАВЩИК</textPath></text>
</g>
</g>
</svg></body></html>
